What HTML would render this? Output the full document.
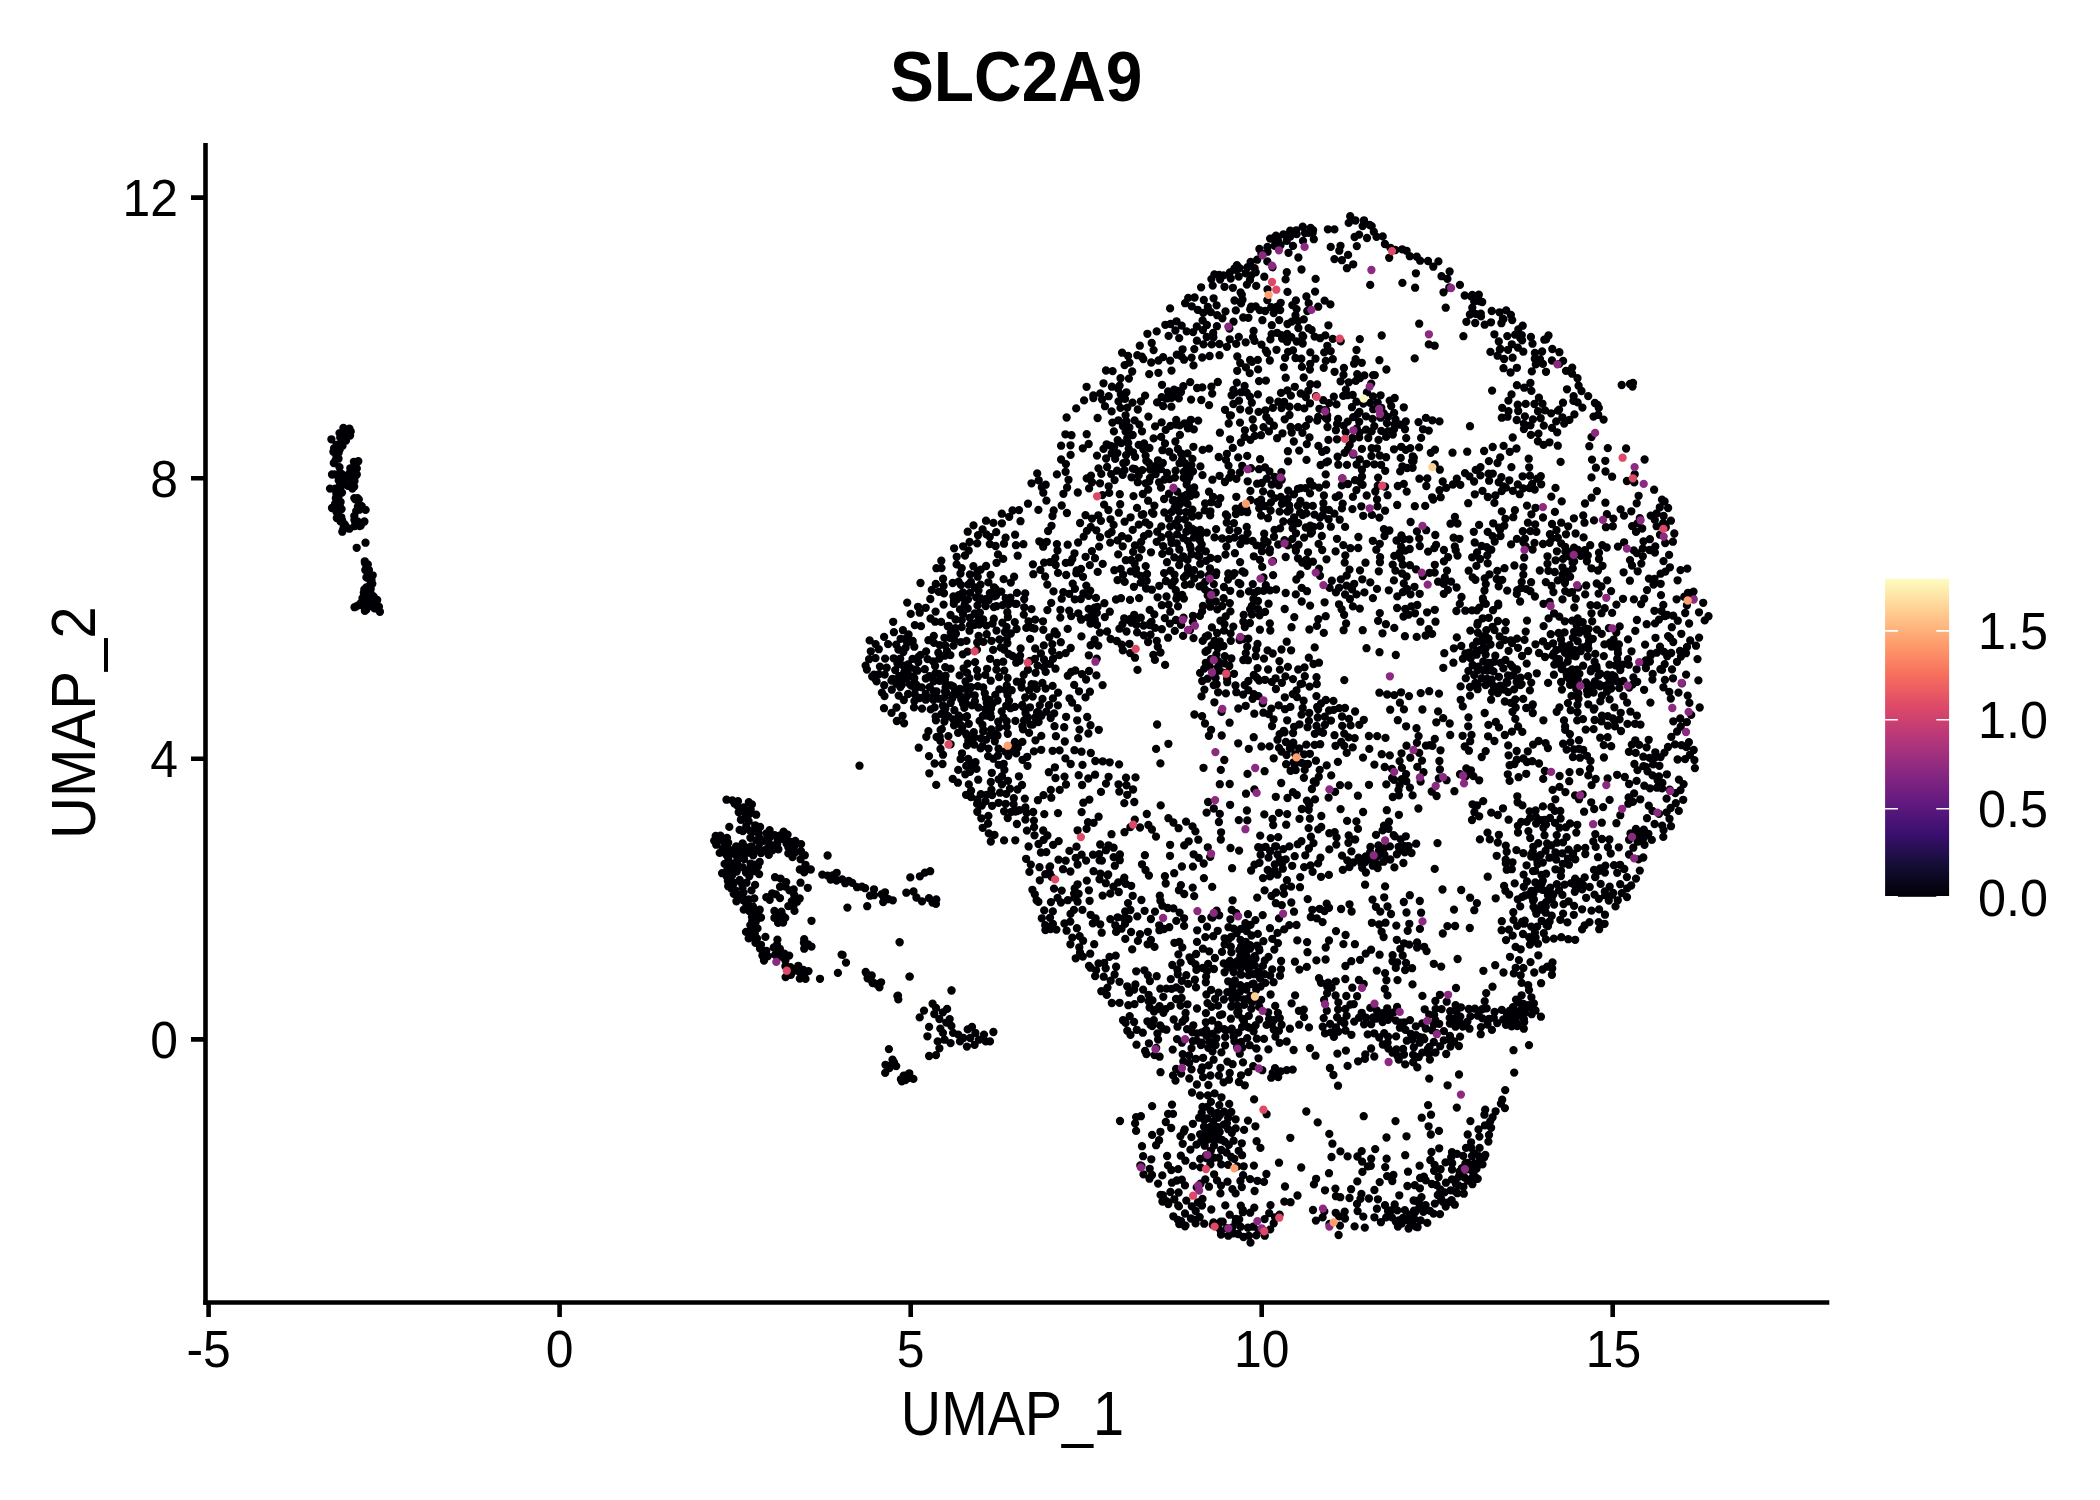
<!DOCTYPE html>
<html><head><meta charset="utf-8"><title>SLC2A9</title><style>
html,body{margin:0;padding:0;background:#fff;width:2100px;height:1500px;overflow:hidden}
svg{display:block}
text{font-family:"Liberation Sans",sans-serif;fill:#000}
</style></head><body>
<svg width="2100" height="1500" viewBox="0 0 2100 1500">
<rect width="2100" height="1500" fill="#fff"/>
<!-- axes -->
<g stroke="#000" stroke-width="4.6" fill="none" stroke-linecap="butt">
<path d="M205.5 143V1304.8"/>
<path d="M203.2 1302.5H1829.3"/>
<path d="M191 197.6H205.5M191 478.2H205.5M191 758.8H205.5M191 1039.4H205.5"/>
<path d="M208.6 1302.5V1317M559.6 1302.5V1317M910.7 1302.5V1317M1261.7 1302.5V1317M1612.7 1302.5V1317"/>
</g>
<g font-size="51.4">
<text transform="translate(178 216) scale(0.97 1)" text-anchor="end">12</text>
<text transform="translate(178 496.6) scale(0.97 1)" text-anchor="end">8</text>
<text transform="translate(178 777.2) scale(0.97 1)" text-anchor="end">4</text>
<text transform="translate(178 1057.8) scale(0.97 1)" text-anchor="end">0</text>
<text transform="translate(208.6 1366.8) scale(0.97 1)" text-anchor="middle">-5</text>
<text transform="translate(559.6 1366.8) scale(0.97 1)" text-anchor="middle">0</text>
<text transform="translate(910.7 1366.8) scale(0.97 1)" text-anchor="middle">5</text>
<text transform="translate(1261.7 1366.8) scale(0.97 1)" text-anchor="middle">10</text>
<text transform="translate(1613.5 1366.8) scale(0.97 1)" text-anchor="middle">15</text>
<text transform="translate(1978 648.8) scale(0.98 1)">1.5</text>
<text transform="translate(1978 737.7) scale(0.98 1)">1.0</text>
<text transform="translate(1978 826.6) scale(0.98 1)">0.5</text>
<text transform="translate(1978 915.5) scale(0.98 1)">0.0</text>
</g>
<text transform="translate(1016.2 100.9) scale(0.932 1)" font-size="70.7" font-weight="bold" text-anchor="middle">SLC2A9</text>
<text transform="translate(1012.5 1435) scale(0.893 1)" font-size="62.5" text-anchor="middle">UMAP_1</text>
<text transform="translate(95.2 722.6) rotate(-90) scale(0.93 1)" font-size="62.5" text-anchor="middle">UMAP_2</text>
<!-- legend -->
<defs><linearGradient id="mg" x1="0" y1="1" x2="0" y2="0">
<stop offset="0" stop-color="#000004"/><stop offset="0.1" stop-color="#140E36"/><stop offset="0.2" stop-color="#3B0F70"/><stop offset="0.3" stop-color="#641A80"/><stop offset="0.4" stop-color="#8C2981"/><stop offset="0.5" stop-color="#B73779"/><stop offset="0.6" stop-color="#DE4968"/><stop offset="0.7" stop-color="#F7705C"/><stop offset="0.8" stop-color="#FE9F6D"/><stop offset="0.9" stop-color="#FECF92"/><stop offset="1" stop-color="#FCFDBF"/>
</linearGradient></defs>
<rect x="1885.1" y="578.7" width="64" height="318.1" fill="url(#mg)"/>
<path d="M1885.1 630.9h12.8M1936.3 630.9h12.8M1885.1 719.8h12.8M1936.3 719.8h12.8M1885.1 808.7h12.8M1936.3 808.7h12.8M1885.1 896.8h12.8M1936.3 896.8h12.8" stroke="#fff" stroke-width="1.6" fill="none"/>
<path d="M1439.2 1023.8h.01M1361.7 1012.8h.01M1330.1 1023.9h.01M1410.9 1033.9h.01M1415.8 1026.4h.01M1429.2 1014.6h.01M1344.4 1023.2h.01M1326.8 1010.7h.01M1493.8 1017.9h.01M1456.5 1017.1h.01M1373.2 1017.4h.01M1480.9 1027.1h.01M1497.2 1023.1h.01M1354.2 1021.6h.01M1514.5 1010.8h.01M1399.9 1027.7h.01M1346.6 1015.8h.01M1450.2 1011.1h.01M1443.9 1031.1h.01M1425.8 1028.5h.01M1433.9 1024.5h.01M1405.4 1029.8h.01M1382.6 1022.0h.01M1393.7 1012.4h.01M1501.8 1009.9h.01M1432.1 1030.2h.01M1416.1 1035.2h.01M1449.9 1023.5h.01M1364.1 1024.3h.01M1400.7 1022.7h.01M1487.5 1024.5h.01M1470.4 1016.4h.01M1388.0 1019.8h.01M1338.2 1031.7h.01M1507.0 1015.3h.01M1325.0 1033.4h.01M1436.6 1033.1h.01M1333.9 1036.9h.01M1474.9 1008.7h.01M1460.9 1007.3h.01M1482.2 1009.2h.01M1434.2 1014.9h.01M1337.1 1017.2h.01M1382.9 1013.2h.01M1384.2 1033.2h.01M1371.2 1024.2h.01M1468.8 1009.0h.01M1515.2 1019.6h.01M1467.4 1021.6h.01M1396.1 1036.4h.01M1455.5 1026.7h.01M1412.3 1039.6h.01M1491.9 1029.9h.01M1423.3 1037.6h.01M1477.9 1015.7h.01M1489.1 1018.8h.01M1486.7 1008.4h.01M1359.0 1017.7h.01M1435.4 1020.2h.01M1469.5 1028.7h.01M1462.8 1026.5h.01M1422.3 1023.4h.01M1449.7 1017.9h.01M1395.9 1020.6h.01M1406.8 1040.7h.01M1366.1 1017.7h.01M1410.0 1020.1h.01M1322.7 1026.7h.01M1376.8 1010.5h.01M1482.4 1018.4h.01M1330.8 1032.4h.01M1335.9 1027.3h.01M1351.4 1034.8h.01M1413.1 1054.8h.01M1396.4 1049.4h.01M1417.3 1067.4h.01M1404.0 1054.5h.01M1443.8 1040.3h.01M1458.9 1046.0h.01M1418.8 1057.0h.01M1387.6 1042.6h.01M1460.1 1036.6h.01M1450.4 1046.6h.01M1454.0 1041.5h.01M1403.1 1048.9h.01M1450.0 1036.0h.01M1382.8 1044.5h.01M1397.5 1056.0h.01M1388.1 1036.7h.01M1422.3 1052.6h.01M1429.9 1059.6h.01M1446.2 1054.0h.01M1440.2 1046.2h.01M1405.2 1064.4h.01M1419.7 1042.7h.01M1392.6 1052.7h.01M1379.2 1037.5h.01M1435.5 1052.5h.01M1433.8 1042.0h.01M1428.0 1048.8h.01M1413.2 1062.3h.01M1413.8 1047.3h.01M1429.0 1054.1h.01M1505.9 1024.8h.01M1521.3 1009.0h.01M1531.7 1014.2h.01M1524.2 1013.8h.01M1513.0 1007.2h.01M1509.7 1010.6h.01M1530.5 1007.0h.01M1540.9 1016.7h.01M1518.5 1012.4h.01M1519.3 1002.9h.01M1524.6 1011.9h.01M1523.9 1019.3h.01M1516.2 1017.3h.01M1523.8 1028.7h.01M1513.1 1015.6h.01M1516.0 999.6h.01M1511.6 1026.3h.01M1533.9 1003.4h.01M1517.2 1026.0h.01M1535.5 1010.5h.01M1518.3 1011.6h.01M1516.1 1022.1h.01M1522.8 1014.5h.01M1524.2 1022.1h.01M1523.4 1003.8h.01M1526.2 1007.7h.01M1510.1 1013.7h.01M1523.6 1005.8h.01M1508.2 1019.3h.01M1522.3 1011.7h.01M1525.4 1006.4h.01M1512.3 1019.6h.01M1528.3 1005.1h.01M1513.5 1010.8h.01M1402.2 249.3h.01M1376.5 236.8h.01M1373.8 231.8h.01M1433.3 266.7h.01M1384.9 244.0h.01M1362.6 226.1h.01M1390.4 247.8h.01M1420.1 260.7h.01M1395.3 250.0h.01M1409.8 256.2h.01M1364.0 220.3h.01M1355.5 220.5h.01M1369.7 225.0h.01M1499.5 312.3h.01M1464.7 295.5h.01M1459.9 284.9h.01M1532.5 343.7h.01M1491.7 311.0h.01M1522.7 325.7h.01M1472.3 295.0h.01M1512.2 320.1h.01M1482.2 302.0h.01M1522.1 340.3h.01M1544.3 339.7h.01M1552.3 349.0h.01M1510.9 315.0h.01M1449.3 287.5h.01M1474.2 301.6h.01M1502.9 318.7h.01M1447.4 278.9h.01M1478.8 294.7h.01M1521.8 335.1h.01M1506.2 310.4h.01M1441.5 276.2h.01M1563.1 360.9h.01M1530.9 337.0h.01M1559.3 363.8h.01M1566.0 370.9h.01M1598.2 414.8h.01M1598.8 407.9h.01M1603.6 419.6h.01M1577.5 378.2h.01M1581.5 391.0h.01M1594.9 403.0h.01M1572.1 373.7h.01M1588.2 396.1h.01M1593.5 416.6h.01M1578.6 385.7h.01M1296.7 234.1h.01M1214.4 274.4h.01M1310.6 227.9h.01M1223.5 275.4h.01M1277.9 240.3h.01M1245.8 273.3h.01M1267.5 246.9h.01M1271.7 238.6h.01M1230.7 278.5h.01M1238.7 276.5h.01M1250.6 261.9h.01M1267.6 251.7h.01M1290.3 236.5h.01M1259.4 249.0h.01M1257.2 259.7h.01M1261.4 253.4h.01M1312.7 232.8h.01M1305.0 233.1h.01M1211.4 279.1h.01M1254.6 268.2h.01M1283.5 234.3h.01M1239.6 268.1h.01M1280.5 245.2h.01M1286.7 240.9h.01M1220.1 279.6h.01M1302.7 226.7h.01M1274.7 245.8h.01M1234.5 268.5h.01M1491.1 1127.8h.01M1490.2 1121.4h.01M1505.2 1090.1h.01M1500.9 1103.6h.01M1502.2 1099.7h.01M1514.2 1072.6h.01M1488.4 1141.6h.01M1495.6 1111.3h.01M1492.6 1117.2h.01M1476.4 1168.9h.01M1485.3 1154.9h.01M1457.3 1193.2h.01M1474.1 1175.9h.01M1451.4 1200.2h.01M1445.7 1206.5h.01M1472.5 1170.4h.01M1458.5 1185.5h.01M1463.4 1186.9h.01M1442.8 1201.8h.01M1450.8 1190.3h.01M1440.0 1214.1h.01M1482.5 1164.4h.01M1479.0 1156.2h.01M1433.5 1213.6h.01M1468.6 1180.7h.01M1403.1 1217.8h.01M1430.0 1210.9h.01M1423.8 1210.9h.01M1404.8 1210.1h.01M1412.1 1222.7h.01M1398.6 1220.5h.01M1415.1 1212.2h.01M1420.1 1204.1h.01M1423.4 1211.9h.01M1419.3 1207.8h.01M1391.9 1217.4h.01M1434.8 1203.6h.01M1465.4 1163.4h.01M1467.3 1167.2h.01M1464.6 1177.5h.01M1466.9 1169.4h.01M1459.6 1174.4h.01M1467.5 1162.9h.01M1468.5 1163.9h.01M1477.7 1178.8h.01M1474.7 1163.3h.01M1463.2 1155.9h.01M1469.5 1168.0h.01M1472.0 1156.0h.01M1452.0 1169.5h.01M1472.4 1171.2h.01M1451.9 1179.4h.01M1461.9 1168.1h.01M1204.2 1223.7h.01M1256.3 1235.4h.01M1238.1 1234.0h.01M1160.6 1194.9h.01M1273.7 1223.3h.01M1173.3 1216.3h.01M1213.4 1222.5h.01M1248.8 1235.8h.01M1158.1 1183.6h.01M1270.2 1229.4h.01M1258.8 1230.2h.01M1226.9 1228.1h.01M1168.3 1204.1h.01M1190.9 1218.5h.01M1149.5 1178.7h.01M1180.2 1221.5h.01M1195.6 1223.4h.01M1185.0 1226.3h.01M1162.4 1201.5h.01M1149.7 1168.8h.01M1264.8 1235.7h.01M1228.3 1235.7h.01M1185.0 1213.5h.01M1232.4 1227.5h.01M1143.5 1174.4h.01M1178.9 1206.4h.01M1215.7 1133.9h.01M1220.2 1139.5h.01M1223.7 1124.6h.01M1228.8 1144.9h.01M1200.1 1134.3h.01M1214.4 1114.6h.01M1205.0 1135.0h.01M1210.9 1129.9h.01M1224.6 1141.6h.01M1201.7 1112.8h.01M1211.0 1150.6h.01M1214.1 1140.5h.01M1214.0 1145.6h.01M1221.1 1149.8h.01M1212.5 1136.5h.01M1228.2 1129.2h.01M1218.9 1157.7h.01M1213.9 1157.7h.01M1228.1 1117.9h.01M1217.9 1117.7h.01M1204.7 1145.7h.01M1207.2 1106.8h.01M1224.2 1111.7h.01M1204.4 1120.0h.01M1231.8 1132.8h.01M1218.0 1127.1h.01M1372.5 418.9h.01M1571.5 695.9h.01M1283.7 887.7h.01M1308.3 390.8h.01M1422.0 760.6h.01M1103.5 383.3h.01M1340.6 381.3h.01M1598.7 922.1h.01M1111.8 1003.0h.01M1427.1 612.3h.01M980.6 748.4h.01M1335.9 592.4h.01M1125.0 923.9h.01M1285.9 742.0h.01M1231.4 658.5h.01M1309.6 686.6h.01M1498.7 586.3h.01M1089.9 691.7h.01M1377.0 499.5h.01M1126.5 785.3h.01M1446.7 1001.7h.01M1202.1 611.4h.01M1599.0 559.0h.01M1099.9 632.6h.01M925.7 694.0h.01M974.7 695.5h.01M994.4 596.3h.01M1510.6 372.5h.01M1165.3 324.8h.01M896.8 721.0h.01M1508.9 929.6h.01M1383.9 529.1h.01M1305.8 527.5h.01M1016.5 603.9h.01M1169.0 493.7h.01M1398.7 1059.6h.01M1328.4 325.3h.01M1333.4 700.9h.01M1377.5 506.4h.01M1240.9 442.5h.01M1396.8 939.8h.01M1595.9 467.7h.01M1168.1 391.5h.01M1173.4 908.4h.01M1420.7 1220.4h.01M1354.1 363.7h.01M1485.8 584.1h.01M945.2 667.1h.01M1207.8 847.3h.01M1208.1 963.9h.01M1022.4 741.9h.01M990.1 658.8h.01M1261.5 344.6h.01M1260.2 835.6h.01M1322.1 451.8h.01M1429.2 691.2h.01M1109.5 956.9h.01M1505.8 622.1h.01M939.5 680.9h.01M1215.7 592.5h.01M1026.3 627.9h.01M1616.4 823.2h.01M1451.1 581.6h.01M1217.1 633.0h.01M1243.1 1175.2h.01M1156.1 748.9h.01M1082.1 785.0h.01M1130.7 571.4h.01M1544.5 835.2h.01M1250.1 360.0h.01M1178.2 1205.5h.01M1219.9 670.6h.01M1307.6 727.2h.01M1271.5 896.0h.01M1090.2 953.7h.01M1291.1 650.3h.01M1530.5 962.1h.01M1462.9 658.7h.01M1003.6 579.1h.01M1587.0 755.8h.01M1342.3 478.5h.01M950.8 632.6h.01M1377.9 1199.3h.01M1454.5 1020.2h.01M1161.8 629.2h.01M1213.0 496.8h.01M1513.6 1018.7h.01M1250.9 468.2h.01M1257.4 1180.8h.01M1523.3 351.7h.01M1328.6 797.6h.01M1620.6 509.4h.01M1136.0 568.9h.01M1330.7 246.9h.01M1405.2 608.9h.01M1569.6 645.2h.01M942.9 705.5h.01M1042.4 683.0h.01M1252.0 614.5h.01M918.3 662.1h.01M1537.6 864.3h.01M1051.3 797.7h.01M1311.9 789.0h.01M1339.7 519.7h.01M1353.2 264.3h.01M1488.7 662.9h.01M1176.4 598.7h.01M1404.1 1022.4h.01M1563.5 904.1h.01M1130.7 618.7h.01M1578.5 685.1h.01M969.8 617.8h.01M1500.2 457.4h.01M1105.8 883.2h.01M1079.7 936.2h.01M1196.8 326.5h.01M917.5 670.7h.01M1557.8 537.8h.01M1384.1 848.1h.01M1174.4 942.8h.01M1495.2 965.2h.01M1576.3 832.6h.01M1138.9 557.6h.01M1202.1 716.2h.01M1167.6 398.4h.01M1398.6 846.8h.01M1635.7 752.9h.01M1459.6 1171.4h.01M1614.4 707.3h.01M1137.5 669.9h.01M1578.9 740.2h.01M948.7 625.8h.01M1319.6 908.8h.01M891.4 680.6h.01M1157.1 724.5h.01M1141.4 1166.0h.01M1164.1 499.0h.01M1105.0 406.2h.01M1180.8 1155.7h.01M1507.5 416.7h.01M1146.4 1054.0h.01M1215.8 601.4h.01M1006.7 726.9h.01M1378.1 620.8h.01M1074.4 897.5h.01M1241.1 946.5h.01M1332.4 1143.7h.01M1443.5 292.3h.01M1555.3 799.3h.01M1045.3 874.2h.01M1504.3 525.7h.01M1329.3 849.4h.01M959.6 675.4h.01M1259.9 629.7h.01M1231.7 1028.6h.01M1511.8 344.3h.01M945.6 687.5h.01M1296.6 309.1h.01M1541.1 906.9h.01M1207.5 678.7h.01M1559.1 659.2h.01M1349.4 867.0h.01M1439.0 693.6h.01M1565.2 591.1h.01M1245.7 941.8h.01M1086.9 530.9h.01M1573.9 749.5h.01M1549.7 542.8h.01M1273.7 1029.5h.01M1285.0 1186.5h.01M1288.1 351.8h.01M895.2 670.1h.01M1587.8 555.5h.01M1370.1 402.9h.01M1549.5 442.3h.01M1178.0 606.4h.01M1095.6 918.5h.01M1329.1 710.5h.01M1370.4 846.9h.01M1247.3 512.2h.01M1562.8 863.9h.01M1246.4 963.2h.01M1376.3 549.7h.01M1527.0 881.5h.01M1553.3 894.5h.01M954.1 548.3h.01M1591.3 669.2h.01M1240.8 1205.7h.01M1288.2 490.7h.01M1039.3 541.3h.01M1264.2 533.7h.01M1552.2 968.5h.01M1403.8 583.5h.01M1415.0 613.3h.01M1618.0 653.3h.01M1400.7 457.9h.01M1117.5 580.1h.01M1175.9 620.0h.01M1516.9 367.8h.01M1300.1 512.5h.01M935.9 720.3h.01M1043.3 629.8h.01M1109.2 492.9h.01M1651.8 839.9h.01M1578.3 693.5h.01M1479.6 1147.9h.01M1092.8 923.4h.01M961.7 627.1h.01M1277.5 854.5h.01M1666.7 812.3h.01M1417.1 947.6h.01M1663.6 830.1h.01M1671.8 627.2h.01M1219.5 355.2h.01M1263.4 712.7h.01M1272.7 653.5h.01M1119.6 1002.8h.01M1229.5 530.1h.01M1232.4 575.7h.01M1512.7 935.6h.01M1562.3 853.3h.01M1595.7 846.9h.01M1240.6 1226.7h.01M1305.9 425.9h.01M1212.1 1020.5h.01M1178.8 398.4h.01M1663.6 516.0h.01M1321.8 536.0h.01M1304.1 867.1h.01M1605.0 914.7h.01M1532.8 713.0h.01M1473.8 654.0h.01M1206.7 1158.2h.01M1056.8 634.4h.01M1182.7 496.5h.01M1185.9 575.5h.01M993.8 618.7h.01M943.6 585.8h.01M1654.4 610.8h.01M1356.8 246.1h.01M1194.4 714.5h.01M1410.3 448.1h.01M1316.1 1178.8h.01M1294.7 856.2h.01M1345.6 935.0h.01M1673.3 721.3h.01M1352.9 606.4h.01M969.5 630.7h.01M1034.8 894.3h.01M1010.5 708.2h.01M1529.9 475.7h.01M1147.6 944.3h.01M1160.2 1025.4h.01M1140.7 582.6h.01M1125.8 560.2h.01M1233.6 972.1h.01M1149.9 981.1h.01M1419.7 593.8h.01M1251.8 605.9h.01M1111.9 386.7h.01M1559.5 827.7h.01M1413.6 1200.5h.01M1607.6 778.5h.01M1649.9 539.2h.01M1132.7 435.0h.01M1537.2 926.6h.01M1435.0 449.7h.01M1675.8 803.2h.01M1378.5 439.9h.01M1190.0 546.0h.01M1216.3 572.4h.01M1232.6 900.3h.01M1280.1 528.4h.01M1207.8 307.0h.01M1465.0 473.1h.01M1418.6 736.1h.01M1202.9 330.1h.01M1116.1 931.9h.01M1348.6 737.4h.01M1460.3 1016.6h.01M1348.4 842.8h.01M1604.4 644.4h.01M1614.3 676.1h.01M1223.9 999.5h.01M1043.8 645.4h.01M944.4 637.8h.01M1636.9 620.0h.01M1207.5 650.3h.01M1286.1 764.2h.01M1545.7 912.7h.01M1563.1 743.7h.01M1475.3 683.0h.01M1397.3 1210.4h.01M1002.4 622.7h.01M1599.5 684.4h.01M1184.0 359.7h.01M1650.7 515.6h.01M1229.6 722.7h.01M1394.3 627.9h.01M1363.0 757.6h.01M1224.0 630.6h.01M1286.9 880.2h.01M1245.4 923.1h.01M1007.3 612.2h.01M1243.9 1021.0h.01M1215.6 678.0h.01M1337.6 456.7h.01M1230.5 848.0h.01M1183.3 538.0h.01M1693.7 750.0h.01M1236.0 1219.0h.01M1551.4 807.0h.01M1560.3 811.0h.01M1043.7 839.8h.01M1054.8 631.5h.01M938.8 591.9h.01M1648.4 833.8h.01M1385.1 973.1h.01M1254.4 789.4h.01M1364.4 375.4h.01M1024.1 720.5h.01M1459.0 1074.5h.01M1570.0 684.8h.01M1286.6 755.0h.01M1609.5 681.8h.01M1089.4 799.6h.01M1529.1 937.2h.01M1336.5 404.4h.01M1190.8 419.8h.01M1664.6 501.4h.01M1314.6 336.6h.01M1178.4 519.2h.01M1588.6 629.1h.01M1644.6 459.5h.01M1543.0 544.0h.01M1348.1 254.9h.01M1363.1 812.0h.01M1439.8 469.7h.01M1096.7 658.7h.01M1466.0 1147.9h.01M1249.7 373.1h.01M1184.9 519.4h.01M1020.6 648.5h.01M1499.0 676.9h.01M914.8 694.3h.01M1302.4 432.8h.01M1107.1 467.0h.01M1263.1 491.4h.01M1056.4 929.6h.01M941.5 714.0h.01M1355.8 380.9h.01M962.9 592.5h.01M1027.5 765.8h.01M1444.3 653.2h.01M1073.9 909.9h.01M1145.7 483.3h.01M1500.1 685.6h.01M1205.8 1022.3h.01M1575.8 598.7h.01M1328.6 519.2h.01M1165.0 443.5h.01M1544.9 771.0h.01M1562.4 417.3h.01M1357.0 1203.9h.01M1238.3 708.5h.01M1345.1 526.9h.01M1136.8 1029.8h.01M1552.6 789.9h.01M1572.2 367.6h.01M1453.4 662.7h.01M1024.2 599.1h.01M1571.1 883.1h.01M1406.6 250.8h.01M1093.6 822.9h.01M1197.1 388.0h.01M1661.0 595.1h.01M1531.2 926.6h.01M1221.7 735.5h.01M1431.7 791.5h.01M1329.3 1133.9h.01M1535.5 507.8h.01M1664.1 651.9h.01M1601.8 822.7h.01M1185.4 1160.7h.01M1573.1 853.8h.01M1254.7 956.2h.01M1200.1 672.9h.01M933.8 635.9h.01M1244.6 386.0h.01M1447.9 589.9h.01M1290.9 395.6h.01M1251.3 1008.7h.01M1612.1 612.9h.01M1278.2 1077.1h.01M1037.1 712.3h.01M930.7 709.4h.01M1311.9 532.3h.01M1208.9 735.8h.01M1220.0 1115.1h.01M1335.9 430.2h.01M986.3 794.9h.01M1106.8 994.9h.01M1233.6 1233.3h.01M948.4 736.1h.01M1439.5 421.4h.01M1498.2 603.7h.01M968.3 740.7h.01M1569.9 734.1h.01M1469.9 314.5h.01M1209.2 951.3h.01M1697.5 659.1h.01M1386.5 1137.5h.01M1508.6 819.7h.01M893.7 658.3h.01M1334.4 513.6h.01M1654.5 578.8h.01M929.3 773.3h.01M1023.8 614.6h.01M1499.0 527.7h.01M1547.5 556.3h.01M1069.2 593.9h.01M1561.2 522.7h.01M1470.2 741.2h.01M1246.3 989.5h.01M1457.5 555.6h.01M1412.0 461.1h.01M1580.8 648.9h.01M1408.0 1171.7h.01M1157.6 597.3h.01M1669.1 554.9h.01M1201.1 287.3h.01M1451.2 1157.2h.01M1362.2 867.8h.01M1547.5 563.8h.01M1342.2 725.9h.01M1317.7 1122.4h.01M1403.8 483.9h.01M1202.3 1067.3h.01M1575.7 656.3h.01M1025.2 697.5h.01M1259.2 1006.8h.01M1170.5 425.8h.01M1241.8 1143.3h.01M1245.9 367.4h.01M1395.4 570.6h.01M1416.9 742.8h.01M1343.2 395.9h.01M955.6 619.5h.01M1243.2 317.5h.01M1629.2 687.5h.01M1498.8 341.5h.01M1195.7 494.4h.01M1555.4 852.3h.01M1219.7 1132.0h.01M1171.2 539.4h.01M966.9 745.4h.01M1598.0 570.5h.01M1386.4 980.3h.01M1071.5 435.2h.01M1142.3 470.1h.01M1203.0 1077.1h.01M1574.8 891.8h.01M1309.9 753.8h.01M1301.8 809.0h.01M1544.4 819.9h.01M1559.1 409.6h.01M1638.1 834.2h.01M1560.6 818.5h.01M940.3 740.7h.01M1295.7 770.1h.01M1568.0 858.7h.01M1509.6 765.2h.01M1665.2 543.0h.01M1148.6 533.7h.01M1206.5 1035.8h.01M988.4 582.3h.01M1577.5 704.8h.01M968.0 599.3h.01M1268.7 714.1h.01M1161.7 397.1h.01M1174.5 574.6h.01M1129.4 427.5h.01M1248.3 638.7h.01M1306.9 800.6h.01M1177.2 596.0h.01M1076.2 408.4h.01M1081.5 751.7h.01M1102.6 895.6h.01M1664.5 752.6h.01M1253.8 675.0h.01M1049.3 637.3h.01M1507.3 682.7h.01M1313.8 781.4h.01M1125.2 911.5h.01M1165.8 1122.0h.01M1041.3 735.9h.01M1232.7 987.0h.01M1148.9 875.5h.01M991.0 708.6h.01M1224.6 938.3h.01M1045.4 930.1h.01M1052.9 924.0h.01M1259.9 559.9h.01M1345.7 432.1h.01M986.3 598.9h.01M1229.7 1214.7h.01M1607.3 674.6h.01M1428.8 430.6h.01M1556.8 884.1h.01M1263.5 427.1h.01M1391.0 914.0h.01M1279.8 1018.1h.01M1261.0 435.2h.01M1477.9 632.8h.01M1271.8 484.6h.01M996.2 532.1h.01M1425.9 417.9h.01M1520.1 601.5h.01M1496.7 855.8h.01M1686.9 605.2h.01M1408.6 846.1h.01M907.1 642.8h.01M1680.5 570.1h.01M1346.9 268.2h.01M1503.0 808.3h.01M1238.2 743.3h.01M1172.7 396.5h.01M1153.4 513.8h.01M1331.6 987.7h.01M1118.8 892.0h.01M1387.1 1176.1h.01M1408.6 1220.9h.01M1595.3 653.9h.01M1090.8 753.0h.01M900.3 687.1h.01M1104.8 617.1h.01M1583.0 719.1h.01M1627.0 897.1h.01M1655.3 546.5h.01M1092.0 482.3h.01M1521.7 581.9h.01M1523.8 886.8h.01M1454.0 909.6h.01M1456.4 1011.2h.01M1605.0 685.8h.01M1488.6 473.7h.01M1247.7 1027.0h.01M1240.9 967.7h.01M1339.1 587.8h.01M1505.8 845.6h.01M1473.8 531.8h.01M1517.8 899.3h.01M1290.6 427.0h.01M1526.3 589.1h.01M1169.3 927.2h.01M1127.3 407.6h.01M1337.0 439.3h.01M1211.3 502.2h.01M1171.3 1170.0h.01M1506.7 869.7h.01M1632.1 526.1h.01M1440.5 750.3h.01M1247.8 958.9h.01M1264.6 890.4h.01M1538.5 433.6h.01M1680.7 726.7h.01M1434.8 738.9h.01M1287.9 545.3h.01M1041.8 918.3h.01M1542.8 880.8h.01M1191.6 554.3h.01M1237.9 530.8h.01M1174.7 580.4h.01M997.6 700.5h.01M1455.8 1191.8h.01M1522.8 531.2h.01M914.8 625.1h.01M1054.2 713.4h.01M1335.8 981.3h.01M1462.8 706.4h.01M1213.3 1121.8h.01M1016.9 824.0h.01M1362.4 1171.9h.01M1375.2 1149.1h.01M968.7 550.5h.01M967.6 663.6h.01M1134.5 1004.1h.01M1174.9 477.6h.01M1394.3 555.9h.01M1352.7 394.9h.01M1196.5 1144.6h.01M1106.1 458.5h.01M1137.9 940.9h.01M1069.5 698.3h.01M1212.5 1051.4h.01M1332.8 338.9h.01M966.9 696.4h.01M1484.7 578.4h.01M1178.8 527.5h.01M1323.7 1018.1h.01M1470.4 1121.1h.01M1258.1 369.4h.01M1583.2 749.8h.01M1551.3 496.6h.01M1303.9 777.8h.01M1583.6 537.4h.01M1164.0 929.0h.01M1253.2 1226.7h.01M1259.0 1000.8h.01M1566.0 827.2h.01M1224.5 663.4h.01M1159.2 925.3h.01M888.1 644.1h.01M1386.9 423.1h.01M1412.5 984.4h.01M1204.2 668.6h.01M1166.5 596.5h.01M1110.3 919.1h.01M1170.5 324.0h.01M1240.3 956.0h.01M1079.3 947.3h.01M1308.7 809.8h.01M1629.1 839.8h.01M1174.2 873.2h.01M953.4 596.5h.01M956.7 556.8h.01M1015.4 720.9h.01M1578.9 748.8h.01M1169.9 623.6h.01M933.8 691.2h.01M1241.2 392.2h.01M977.3 799.4h.01M1369.0 784.8h.01M1116.1 966.7h.01M1452.0 1152.2h.01M1303.0 240.9h.01M908.0 664.5h.01M970.0 574.5h.01M1028.6 846.5h.01M992.1 795.0h.01M1076.3 573.2h.01M1179.3 942.0h.01M1677.8 620.7h.01M1639.2 744.9h.01M1106.6 444.3h.01M1385.2 470.8h.01M1180.6 962.6h.01M1662.0 499.6h.01M1350.4 548.2h.01M1481.6 546.0h.01M1542.1 351.5h.01M1390.2 709.7h.01M1151.0 552.3h.01M1190.8 584.2h.01M931.8 589.9h.01M1150.0 478.0h.01M1424.2 946.8h.01M1242.1 1155.2h.01M1057.9 705.4h.01M1262.4 320.2h.01M1008.4 604.3h.01M1474.3 910.2h.01M1066.6 930.7h.01M1031.6 684.2h.01M1386.3 784.4h.01M1180.0 559.4h.01M1240.0 422.6h.01M1264.3 814.4h.01M1435.5 621.7h.01M1358.1 1061.3h.01M1131.5 477.3h.01M1159.1 1140.2h.01M1481.6 678.1h.01M1508.6 650.8h.01M1119.3 791.6h.01M1080.1 523.0h.01M1483.3 670.4h.01M891.5 712.9h.01M884.0 708.2h.01M1425.2 505.9h.01M996.5 606.2h.01M1685.1 759.1h.01M1659.0 776.4h.01M1280.7 1071.4h.01M1483.4 970.8h.01M1561.1 648.7h.01M1318.3 619.2h.01M1540.8 476.2h.01M1254.8 435.9h.01M981.8 805.5h.01M1340.3 1197.2h.01M990.3 713.8h.01M1229.7 784.0h.01M938.3 652.7h.01M1556.7 835.1h.01M1210.4 1164.4h.01M1517.8 484.4h.01M1277.9 1013.0h.01M1156.7 976.2h.01M998.0 554.4h.01M1488.1 736.3h.01M1285.4 676.4h.01M1591.5 437.1h.01M1336.3 844.6h.01M1180.4 1136.1h.01M1202.5 475.1h.01M1078.2 738.2h.01M1508.1 692.1h.01M1187.9 567.6h.01M1126.4 392.3h.01M1248.6 975.2h.01M1136.4 624.9h.01M1645.1 644.6h.01M1676.6 599.3h.01M1365.2 862.1h.01M870.8 651.3h.01M1260.1 978.4h.01M1386.1 457.2h.01M1475.4 579.8h.01M1325.8 360.9h.01M1340.5 245.8h.01M1298.2 523.0h.01M1219.9 432.7h.01M1410.6 522.0h.01M1543.5 444.9h.01M1170.1 844.8h.01M1174.1 389.6h.01M998.7 764.9h.01M1213.2 333.0h.01M1224.6 972.3h.01M1010.8 633.5h.01M1394.5 424.4h.01M1096.0 597.9h.01M1273.9 1020.1h.01M1508.2 745.4h.01M1177.0 1039.1h.01M884.2 685.2h.01M1185.0 1185.4h.01M1562.5 599.4h.01M1406.1 774.1h.01M1280.7 302.8h.01M1197.7 309.8h.01M1542.8 862.6h.01M1538.0 411.2h.01M1254.3 1207.6h.01M1086.6 828.8h.01M1496.7 579.0h.01M1622.4 664.6h.01M1466.3 768.4h.01M1005.6 537.7h.01M1174.3 557.4h.01M1410.3 757.7h.01M1431.0 1114.7h.01M1402.7 955.5h.01M977.9 676.5h.01M1097.0 624.9h.01M1663.3 604.9h.01M1641.1 604.1h.01M1491.0 322.3h.01M1172.7 1049.6h.01M1043.0 621.3h.01M1463.8 1193.7h.01M1472.0 610.4h.01M929.5 676.1h.01M1238.2 1014.5h.01M1211.3 1209.5h.01M1454.8 1204.7h.01M1139.4 424.6h.01M1228.7 423.5h.01M1551.7 899.1h.01M1162.3 553.9h.01M1032.4 889.8h.01M1516.4 850.1h.01M1319.0 662.7h.01M1146.3 588.5h.01M1241.0 1075.3h.01M876.6 681.4h.01M986.2 739.6h.01M1620.2 884.2h.01M970.9 581.9h.01M1314.5 514.6h.01M1136.1 1117.1h.01M1509.2 894.5h.01M1162.3 1175.4h.01M1283.9 893.9h.01M1644.3 662.8h.01M1259.7 310.1h.01M1304.1 537.6h.01M1077.6 901.7h.01M1185.6 1013.0h.01M1179.2 511.6h.01M1064.8 741.5h.01M1054.5 632.7h.01M1197.2 930.3h.01M1263.4 941.2h.01M1529.6 811.4h.01M1200.0 535.4h.01M1234.0 673.8h.01M1303.6 700.7h.01M1270.6 994.5h.01M973.5 525.4h.01M1308.6 328.2h.01M1287.9 451.2h.01M1643.3 756.7h.01M1399.9 702.7h.01M1394.0 429.4h.01M954.0 725.3h.01M891.8 689.7h.01M1011.7 690.2h.01M1270.9 502.4h.01M1605.3 460.8h.01M1543.0 641.3h.01M1384.7 767.0h.01M1000.0 792.7h.01M1213.6 1059.7h.01M1001.3 591.6h.01M1514.9 510.2h.01M1549.4 857.7h.01M1565.2 729.9h.01M978.0 535.2h.01M1587.6 656.5h.01M1257.8 502.0h.01M1307.7 899.1h.01M1063.0 869.2h.01M1246.0 793.7h.01M1579.8 771.8h.01M1572.1 669.5h.01M1066.6 417.5h.01M930.5 618.5h.01M1219.4 344.0h.01M1600.2 737.7h.01M1181.8 980.9h.01M1206.1 976.6h.01M1598.9 898.8h.01M1161.8 605.2h.01M1239.9 991.8h.01M912.7 640.9h.01M1414.7 358.4h.01M1225.5 554.6h.01M1365.5 562.7h.01M1134.3 802.0h.01M1426.3 486.0h.01M1193.0 615.8h.01M1224.2 1029.1h.01M1109.8 611.7h.01M1649.5 757.9h.01M1434.7 345.7h.01M1382.6 830.4h.01M1206.1 1030.0h.01M1385.9 624.2h.01M1410.5 594.3h.01M1310.2 363.8h.01M1624.0 515.6h.01M1584.5 522.7h.01M1296.2 230.3h.01M1220.4 1067.8h.01M1660.7 583.8h.01M1254.3 713.7h.01M1432.1 633.9h.01M1419.2 323.7h.01M1224.9 482.0h.01M1275.8 903.2h.01M1083.7 536.6h.01M1038.3 722.1h.01M1675.0 744.4h.01M1357.4 1156.5h.01M1448.1 557.2h.01M1219.3 1105.1h.01M1377.2 736.1h.01M1138.7 444.9h.01M1341.2 741.9h.01M1424.3 1039.2h.01M1563.0 842.4h.01M1148.9 1043.3h.01M1194.2 487.5h.01M1287.1 341.7h.01M1440.7 497.2h.01M1463.4 336.2h.01M1229.9 415.5h.01M1281.9 503.8h.01M1070.7 648.0h.01M1141.2 541.8h.01M1343.5 374.9h.01M1322.6 1217.4h.01M1374.3 1056.5h.01M1219.6 475.8h.01M1371.9 922.8h.01M1343.7 425.6h.01M1108.6 776.8h.01M1035.2 648.5h.01M982.6 529.4h.01M1556.2 421.4h.01M1184.1 925.9h.01M1221.0 1185.6h.01M1400.3 948.9h.01M1567.7 661.6h.01M1226.9 1123.2h.01M1565.1 652.9h.01M1551.7 915.7h.01M1186.3 975.2h.01M1567.0 676.7h.01M1183.9 598.6h.01M1340.6 809.1h.01M1158.1 1039.5h.01M1677.0 661.8h.01M1086.6 386.8h.01M1304.1 1017.1h.01M1474.2 675.0h.01M953.2 686.5h.01M1381.3 430.9h.01M1134.8 819.6h.01M1044.0 659.5h.01M1627.5 723.9h.01M1148.1 500.7h.01M1291.1 886.6h.01M1524.9 416.4h.01M1149.2 374.1h.01M1208.0 635.5h.01M1479.9 839.4h.01M1613.3 518.6h.01M1187.5 453.4h.01M1469.8 928.0h.01M1351.4 851.4h.01M1161.0 487.6h.01M1171.2 1128.0h.01M1626.9 481.0h.01M1591.4 568.3h.01M1245.7 342.3h.01M1158.5 360.5h.01M1634.7 474.3h.01M1074.2 684.9h.01M1004.3 670.6h.01M1244.6 436.9h.01M1053.5 591.4h.01M1324.3 1211.4h.01M1225.3 1205.4h.01M1473.4 776.1h.01M1173.0 1075.4h.01M1597.5 404.9h.01M1235.6 1119.3h.01M979.6 720.9h.01M1203.9 878.1h.01M1226.2 672.7h.01M1316.4 960.4h.01M1531.7 853.6h.01M1538.0 943.7h.01M1562.4 894.9h.01M1239.0 400.7h.01M1210.2 515.4h.01M944.2 697.4h.01M1413.8 457.8h.01M1501.7 491.0h.01M1421.1 437.9h.01M977.3 811.8h.01M1659.0 619.6h.01M989.8 593.1h.01M920.5 654.9h.01M1587.9 644.9h.01M1219.7 641.3h.01M950.4 655.1h.01M1162.4 905.7h.01M1590.0 768.7h.01M1042.5 698.9h.01M1392.6 955.2h.01M1662.2 825.6h.01M1070.7 764.0h.01M1613.2 893.0h.01M1293.6 762.3h.01M1244.8 627.0h.01M1492.2 670.6h.01M1202.2 681.0h.01M1126.1 462.1h.01M1638.4 859.3h.01M1171.6 585.3h.01M1480.0 1161.8h.01M1174.3 1199.3h.01M1271.0 493.7h.01M1124.3 803.1h.01M1070.5 913.9h.01M1188.2 525.4h.01M1497.8 842.5h.01M1081.4 636.4h.01M1472.4 1184.2h.01M1389.2 257.8h.01M1656.6 526.2h.01M1181.1 1073.6h.01M950.6 744.3h.01M1310.8 917.0h.01M1055.9 736.2h.01M1017.7 555.7h.01M1365.3 1054.4h.01M1232.3 965.8h.01M1369.3 748.9h.01M1222.0 951.9h.01M1445.9 1182.7h.01M924.8 669.2h.01M1579.0 799.2h.01M1127.2 794.8h.01M1672.0 669.4h.01M1657.0 787.7h.01M1312.9 561.7h.01M948.3 716.3h.01M1251.5 935.5h.01M1520.3 338.0h.01M1417.6 1227.2h.01M1156.7 331.4h.01M1216.4 654.5h.01M1122.7 474.9h.01M1238.4 1032.5h.01M1220.3 498.2h.01M1221.0 1234.6h.01M1273.7 758.3h.01M1003.7 763.8h.01M1379.8 455.5h.01M1210.9 1101.9h.01M1140.3 1165.5h.01M1603.8 656.1h.01M1218.4 1227.5h.01M1508.0 675.4h.01M1263.0 878.1h.01M986.0 520.7h.01M1663.5 561.1h.01M1257.2 897.6h.01M1217.0 1180.4h.01M1579.4 673.8h.01M1619.3 688.1h.01M1459.8 603.9h.01M1170.2 526.6h.01M1517.9 825.8h.01M935.1 666.0h.01M1164.9 876.2h.01M1164.3 512.5h.01M1549.9 534.2h.01M1118.1 388.6h.01M1352.9 496.9h.01M1221.1 832.3h.01M1158.0 460.3h.01M1485.6 685.1h.01M1361.4 863.5h.01M1559.4 707.4h.01M1204.0 1126.7h.01M1184.2 845.4h.01M1041.4 715.7h.01M1157.2 531.7h.01M1108.7 396.2h.01M974.7 613.5h.01M1006.7 721.2h.01M1574.4 414.4h.01M1262.9 965.9h.01M1397.5 980.1h.01M1508.4 400.6h.01M1515.3 699.5h.01M1462.6 735.8h.01M1004.0 543.7h.01M904.3 672.1h.01M1528.1 676.1h.01M1444.6 1192.4h.01M1366.0 416.4h.01M1310.1 605.6h.01M1197.1 1033.4h.01M1323.0 732.8h.01M1630.4 711.6h.01M1582.2 889.3h.01M1154.5 946.9h.01M1061.7 598.7h.01M1420.7 693.1h.01M1124.6 365.1h.01M1117.6 540.3h.01M1261.4 746.5h.01M1089.1 671.0h.01M1285.7 859.4h.01M1015.9 545.2h.01M962.8 654.3h.01M1082.0 674.2h.01M965.5 681.5h.01M1610.7 853.5h.01M1362.1 1161.6h.01M1350.6 725.4h.01M1404.8 852.4h.01M960.0 609.4h.01M1434.7 572.6h.01M1394.1 412.9h.01M1135.1 1123.4h.01M1192.9 1123.8h.01M1286.2 824.7h.01M1078.6 893.8h.01M1202.7 968.0h.01M1680.3 718.5h.01M1274.0 536.8h.01M1387.5 906.5h.01M1124.5 470.2h.01M1229.9 961.0h.01M1228.0 579.5h.01M1095.1 774.7h.01M1400.2 471.4h.01M1164.8 618.1h.01M1378.5 845.4h.01M1319.1 487.6h.01M1161.4 526.4h.01M1049.9 663.9h.01M1457.0 1153.9h.01M879.9 666.6h.01M1295.8 594.4h.01M1242.5 299.7h.01M1219.8 784.2h.01M1376.8 970.6h.01M1147.0 574.0h.01M1235.9 514.0h.01M1032.7 696.6h.01M1515.2 334.7h.01M1400.7 839.4h.01M1247.9 1227.7h.01M1345.5 1030.5h.01M1534.5 542.9h.01M1546.1 873.7h.01M972.0 705.3h.01M1668.0 747.0h.01M1453.6 537.7h.01M1271.8 325.2h.01M1230.1 804.8h.01M1069.2 610.6h.01M1134.1 1022.0h.01M1194.0 570.1h.01M1184.2 894.0h.01M1567.9 703.1h.01M1427.3 1222.9h.01M1170.4 1192.0h.01M1101.3 473.9h.01M1580.7 555.9h.01M1122.7 546.3h.01M1565.3 551.7h.01M1494.4 334.3h.01M1589.5 922.1h.01M1107.5 987.6h.01M1386.6 1158.7h.01M1518.2 411.0h.01M1039.5 867.2h.01M1410.0 1214.3h.01M1435.6 1008.9h.01M1183.3 386.2h.01M1243.6 961.8h.01M1192.9 1165.9h.01M961.3 699.6h.01M1052.6 685.9h.01M1362.3 579.3h.01M1306.8 444.1h.01M1223.7 963.4h.01M1675.3 793.1h.01M1151.3 1159.3h.01M1489.1 480.7h.01M1403.4 863.0h.01M1254.1 1099.4h.01M1365.1 884.7h.01M1490.5 644.5h.01M1451.7 1200.3h.01M1182.5 1021.6h.01M1304.7 769.9h.01M1488.9 461.1h.01M1659.8 507.3h.01M1430.8 452.8h.01M1492.1 691.9h.01M903.3 652.1h.01M1653.1 764.3h.01M1599.1 870.8h.01M1299.2 1024.7h.01M1290.3 1137.8h.01M1323.6 509.0h.01M1596.9 491.1h.01M1394.2 695.1h.01M1574.6 650.1h.01M1208.7 1065.4h.01M1270.4 339.4h.01M1072.7 583.7h.01M1507.8 774.3h.01M929.0 756.1h.01M1279.6 1042.8h.01M1617.8 900.3h.01M1664.6 525.7h.01M1233.3 626.6h.01M1396.9 854.3h.01M1067.1 487.5h.01M1157.4 1033.5h.01M1111.7 453.3h.01M1152.1 1134.9h.01M1119.1 764.4h.01M1216.1 529.1h.01M908.1 694.0h.01M1566.6 837.1h.01M1560.9 876.0h.01M1485.7 654.6h.01M1284.7 609.0h.01M1457.6 959.0h.01M1306.3 513.4h.01M1184.7 1129.4h.01M1614.9 726.3h.01M1171.6 988.8h.01M1130.4 827.1h.01M1315.9 760.7h.01M1166.9 473.0h.01M1603.1 807.1h.01M1545.6 850.7h.01M1196.0 987.4h.01M1474.0 1153.3h.01M1321.3 816.0h.01M1249.0 591.4h.01M1190.4 496.0h.01M1268.5 956.9h.01M1228.5 927.2h.01M1486.0 637.0h.01M1267.6 650.4h.01M1159.8 895.7h.01M1392.5 961.3h.01M1206.8 532.6h.01M1609.6 699.4h.01M1605.9 527.2h.01M1342.7 503.6h.01M1434.7 868.9h.01M1681.6 745.2h.01M1114.3 570.2h.01M1287.5 798.0h.01M1309.9 1048.1h.01M1423.5 772.2h.01M1209.9 568.3h.01M1344.7 452.8h.01M1334.6 371.8h.01M1216.9 326.2h.01M1195.4 831.4h.01M1304.1 754.3h.01M1387.5 995.4h.01M942.5 764.0h.01M1110.2 542.6h.01M1034.5 835.3h.01M925.7 607.8h.01M1419.9 1188.3h.01M1001.9 784.4h.01M1377.7 868.1h.01M1689.9 754.8h.01M1124.2 618.3h.01M993.4 522.9h.01M920.5 583.0h.01M1476.9 903.1h.01M1217.6 1029.7h.01M1219.8 813.9h.01M1135.1 456.9h.01M1220.9 1231.5h.01M1454.9 516.9h.01M1367.7 1034.4h.01M1607.8 448.1h.01M1247.1 949.8h.01M1052.6 750.8h.01M1522.4 805.4h.01M1264.0 658.6h.01M1265.2 311.0h.01M1194.2 896.1h.01M1209.7 666.6h.01M1154.5 1055.1h.01M1576.3 689.0h.01M1314.6 744.9h.01M1074.4 750.2h.01M1113.6 847.7h.01M1516.5 448.5h.01M1538.2 843.4h.01M1205.1 503.5h.01M1644.1 689.8h.01M1650.7 655.5h.01M884.1 636.9h.01M1401.4 535.4h.01M1010.8 582.6h.01M1017.5 789.5h.01M1489.5 574.3h.01M1582.1 909.3h.01M1114.8 865.7h.01M1483.3 661.4h.01M1329.0 907.8h.01M1402.9 592.1h.01M1065.7 860.7h.01M1210.2 1160.7h.01M1101.0 791.9h.01M1103.5 448.9h.01M902.9 665.3h.01M1614.7 720.7h.01M1548.0 926.1h.01M915.7 669.3h.01M1688.9 742.2h.01M1592.0 459.6h.01M980.8 738.4h.01M1084.1 400.4h.01M1279.6 734.1h.01M1250.1 945.2h.01M1179.5 463.2h.01M1236.2 913.1h.01M1561.7 669.0h.01M1434.8 609.8h.01M960.5 573.5h.01M1267.5 289.4h.01M1226.9 346.8h.01M915.3 688.7h.01M978.5 590.6h.01M1227.2 682.2h.01M1290.6 1202.2h.01M1345.3 979.0h.01M1021.6 687.5h.01M1137.0 507.9h.01M1205.9 1013.1h.01M1438.6 1177.0h.01M989.2 700.0h.01M1070.3 921.6h.01M1513.3 517.2h.01M1636.7 503.3h.01M1104.4 603.2h.01M1501.4 477.2h.01M1398.9 795.3h.01M1077.6 864.5h.01M909.9 684.3h.01M1184.6 423.3h.01M1256.5 1048.6h.01M955.4 628.2h.01M1514.4 565.5h.01M1603.9 757.5h.01M1419.4 478.7h.01M1380.6 417.7h.01M1014.8 622.1h.01M1339.0 604.3h.01M1281.5 408.1h.01M1683.6 784.1h.01M1567.9 551.9h.01M994.5 834.9h.01M1016.8 681.7h.01M1568.8 656.7h.01M1535.2 524.4h.01M1080.8 599.0h.01M1222.4 318.3h.01M1359.8 459.4h.01M1090.6 645.2h.01M928.4 640.2h.01M1130.2 653.1h.01M1611.2 746.2h.01M1318.6 543.9h.01M1403.8 846.0h.01M1381.6 931.8h.01M875.5 658.1h.01M1242.5 1018.8h.01M958.2 769.9h.01M975.5 762.2h.01M1313.8 239.2h.01M1006.2 705.8h.01M945.6 675.7h.01M1088.3 778.5h.01M998.6 802.8h.01M1529.2 467.3h.01M1327.9 461.4h.01M1577.5 712.2h.01M1492.6 626.8h.01M1545.0 410.4h.01M1419.2 752.9h.01M1370.2 852.1h.01M1017.0 592.9h.01M1086.1 679.5h.01M1594.0 869.9h.01M1382.5 633.3h.01M1123.0 1020.2h.01M933.5 699.2h.01M1005.6 803.8h.01M1137.8 482.2h.01M1264.8 506.0h.01M1564.6 632.4h.01M1175.4 441.5h.01M1002.0 776.1h.01M1218.9 822.0h.01M1535.6 937.4h.01M1494.6 1012.0h.01M1532.8 704.4h.01M1044.1 562.6h.01M1168.1 1113.9h.01M1257.5 644.0h.01M1661.5 611.0h.01M1023.7 674.7h.01M1243.5 1237.0h.01M1409.9 787.6h.01M1600.6 883.9h.01M1532.2 761.2h.01M1200.5 1167.4h.01M1122.9 426.0h.01M1232.6 1064.2h.01M1189.8 490.5h.01M1149.4 448.0h.01M1287.4 390.5h.01M1083.3 802.7h.01M1301.5 269.5h.01M1574.1 905.9h.01M1177.8 1219.8h.01M1126.3 421.3h.01M1118.5 784.3h.01M903.8 700.0h.01M1425.7 1180.3h.01M1206.7 337.0h.01M1523.2 698.9h.01M1213.9 969.0h.01M1429.5 1046.8h.01M1278.7 705.3h.01M967.1 672.8h.01M1334.4 259.1h.01M1075.7 958.3h.01M1649.9 661.5h.01M1596.7 583.5h.01M1371.2 859.5h.01M1474.1 481.5h.01M1240.4 1181.0h.01M935.6 611.6h.01M1233.4 389.9h.01M1249.9 396.7h.01M1125.3 938.9h.01M1315.1 291.6h.01M967.7 608.5h.01M1516.7 751.0h.01M1455.7 550.2h.01M1325.8 700.0h.01M1075.7 857.9h.01M1309.9 481.3h.01M1366.5 648.2h.01M1438.1 711.4h.01M1148.8 463.0h.01M1324.6 602.3h.01M1380.9 1222.2h.01M1223.6 1082.3h.01M1601.7 633.9h.01M1634.3 482.4h.01M1574.1 561.4h.01M1004.9 632.0h.01M1488.5 1019.7h.01M1098.8 729.8h.01M1414.0 1210.6h.01M1186.0 821.6h.01M1244.8 1085.3h.01M1374.4 1217.3h.01M1524.7 920.7h.01M1203.5 344.4h.01M1009.2 516.8h.01M934.0 642.9h.01M1291.7 432.5h.01M1307.5 952.2h.01M1151.9 829.5h.01M1379.6 954.7h.01M1207.7 595.4h.01M953.2 719.3h.01M1125.6 415.3h.01M1315.5 358.7h.01M1008.3 755.8h.01M1208.1 802.0h.01M1130.4 910.0h.01M1422.8 576.0h.01M1220.7 1221.6h.01M995.6 546.0h.01M1389.0 821.7h.01M1070.4 871.5h.01M929.7 687.1h.01M1144.9 855.2h.01M1186.3 1200.6h.01M1521.0 588.0h.01M1108.4 510.0h.01M1030.6 724.6h.01M1215.6 1045.0h.01M1022.0 785.0h.01M1242.5 571.4h.01M1064.2 727.2h.01M1441.6 1009.1h.01M953.8 603.9h.01M1065.9 464.1h.01M1374.9 863.7h.01M1596.4 666.2h.01M1255.6 1025.2h.01M1363.7 984.0h.01M1231.2 1157.0h.01M1270.7 838.1h.01M1551.1 413.3h.01M1291.0 521.8h.01M1464.7 746.5h.01M1337.4 1053.6h.01M1117.1 470.7h.01M1205.8 982.3h.01M1243.3 660.0h.01M1667.2 656.2h.01M1434.7 464.5h.01M1229.3 477.7h.01M1160.3 988.7h.01M1237.3 961.1h.01M1531.4 891.0h.01M900.6 638.8h.01M1147.4 333.8h.01M1628.0 639.4h.01M1472.6 665.0h.01M1578.1 587.5h.01M1357.3 1181.4h.01M936.2 784.9h.01M933.3 680.1h.01M1505.4 518.8h.01M1240.4 544.0h.01M1346.6 585.7h.01M1602.3 545.1h.01M1238.8 820.1h.01M1254.2 974.2h.01M1265.3 982.9h.01M1102.1 399.5h.01M1480.4 475.4h.01M1377.0 448.3h.01M1349.5 1198.0h.01M1268.0 518.2h.01M1239.6 640.0h.01M985.7 606.0h.01M986.1 566.0h.01M1092.0 518.6h.01M1235.6 1193.4h.01M1405.0 429.3h.01M1487.5 832.6h.01M1170.7 1005.9h.01M1236.8 382.6h.01M1303.8 1009.6h.01M1098.6 816.7h.01M878.7 674.3h.01M1406.0 962.9h.01M1329.0 1173.2h.01M1258.5 1058.3h.01M1459.5 538.8h.01M1577.5 848.1h.01M1518.1 726.5h.01M1612.3 675.2h.01M1276.1 892.5h.01M1620.1 864.8h.01M1419.9 1037.1h.01M1196.9 1084.5h.01M1316.5 677.2h.01M1179.6 912.6h.01M1565.1 546.8h.01M1337.9 761.9h.01M1051.5 525.8h.01M1183.3 1061.5h.01M1402.9 849.7h.01M1012.5 656.0h.01M1542.9 363.9h.01M1633.8 550.4h.01M1142.8 1032.7h.01M1319.9 517.6h.01M1143.6 625.5h.01M1131.2 885.8h.01M1191.6 357.6h.01M1261.1 499.7h.01M1547.9 748.1h.01M1200.2 563.7h.01M1394.7 1204.4h.01M1081.0 568.9h.01M1518.0 647.8h.01M1152.2 1026.0h.01M1636.9 715.6h.01M1375.9 906.8h.01M1284.2 929.4h.01M1385.5 922.7h.01M1501.8 417.7h.01M1179.3 549.5h.01M1214.1 1174.3h.01M1294.9 961.7h.01M1501.4 323.2h.01M1358.0 828.9h.01M1514.9 1014.5h.01M1556.5 530.2h.01M1094.6 607.7h.01M1125.7 883.8h.01M1643.8 829.6h.01M1211.1 989.8h.01M1542.5 403.7h.01M1160.5 652.5h.01M1293.0 350.4h.01M1218.9 1075.5h.01M1293.1 733.0h.01M1660.0 646.7h.01M1228.3 573.5h.01M1255.4 1126.3h.01M1253.6 331.0h.01M1670.6 808.0h.01M1181.9 1042.7h.01M1348.7 222.9h.01M1192.1 530.8h.01M1108.4 534.1h.01M1419.2 538.4h.01M1387.2 1008.3h.01M1254.5 340.9h.01M1161.2 436.9h.01M1299.4 969.6h.01M1058.5 859.7h.01M1344.1 614.8h.01M1545.6 743.1h.01M1479.2 816.3h.01M1037.9 800.2h.01M1106.0 850.2h.01M1479.2 780.3h.01M1240.3 985.1h.01M1194.4 530.2h.01M1568.6 849.6h.01M1067.7 628.9h.01M1237.6 997.9h.01M1127.2 986.3h.01M1401.6 1223.6h.01M1531.5 896.3h.01M1592.2 621.3h.01M1162.0 384.8h.01M1572.8 568.4h.01M1240.1 562.1h.01M963.1 546.3h.01M1199.5 586.3h.01M1494.4 741.0h.01M1628.6 797.4h.01M1271.8 681.9h.01M991.8 772.8h.01M1573.0 675.6h.01M1279.8 859.3h.01M1589.3 446.2h.01M1635.3 630.9h.01M1093.4 398.0h.01M1177.2 491.6h.01M1516.7 420.0h.01M1016.2 753.4h.01M1152.0 1175.0h.01M1427.3 478.4h.01M1487.0 668.2h.01M1443.9 550.0h.01M950.7 702.8h.01M1113.6 524.9h.01M1631.5 651.3h.01M1200.7 574.5h.01M1244.7 685.0h.01M1029.1 690.2h.01M1364.9 1058.9h.01M1323.8 632.9h.01M1278.0 943.1h.01M1244.9 430.3h.01M1345.4 1009.0h.01M1518.0 832.5h.01M1281.0 969.3h.01M1100.5 873.6h.01M1428.6 1126.3h.01M1150.9 919.0h.01M1194.3 349.1h.01M1052.2 651.0h.01M1527.8 751.3h.01M1236.3 692.2h.01M1678.9 779.6h.01M1195.7 1211.0h.01M1669.9 567.3h.01M1078.3 613.3h.01M1320.4 857.7h.01M1291.5 747.1h.01M1476.6 654.7h.01M1678.8 810.9h.01M1409.0 696.1h.01M1219.1 274.9h.01M1409.8 895.2h.01M1075.3 670.5h.01M1099.1 546.6h.01M977.5 621.9h.01M1397.3 962.4h.01M974.4 737.4h.01M1465.4 653.5h.01M1316.4 696.1h.01M1624.1 542.3h.01M972.1 624.0h.01M1338.4 1002.4h.01M1402.4 282.9h.01M1193.9 537.6h.01M1256.9 945.7h.01M1428.7 629.1h.01M1500.4 348.9h.01M999.1 677.0h.01M1188.7 841.3h.01M911.2 685.6h.01M1481.7 757.0h.01M1281.1 961.0h.01M1162.8 463.0h.01M1145.1 1051.0h.01M1504.8 735.0h.01M1584.9 550.2h.01M1143.3 449.2h.01M1315.5 1055.7h.01M1467.7 1134.5h.01M1517.2 925.9h.01M1652.7 673.9h.01M1139.1 598.1h.01M1663.2 522.9h.01M1566.0 534.3h.01M941.8 729.1h.01M907.7 671.2h.01M1470.0 687.0h.01M1146.8 814.0h.01M1262.2 566.9h.01M1504.1 885.9h.01M1267.3 261.4h.01M1492.5 986.7h.01M934.1 697.2h.01M1157.8 646.8h.01M946.4 692.6h.01M1135.5 777.4h.01M1317.7 717.5h.01M941.3 560.7h.01M919.7 612.7h.01M1237.0 1046.9h.01M1229.9 272.5h.01M1257.8 933.9h.01M1104.2 962.9h.01M1254.8 965.5h.01M1313.5 843.1h.01M1523.9 429.0h.01M1327.9 229.3h.01M1561.0 639.5h.01M1329.9 1068.0h.01M971.1 687.2h.01M1299.5 724.3h.01M1637.6 841.7h.01M991.3 729.5h.01M1283.8 367.2h.01M1361.3 506.3h.01M1374.3 426.1h.01M1209.0 491.7h.01M1202.9 606.0h.01M1522.2 921.6h.01M1157.1 402.4h.01M1688.0 592.8h.01M1585.0 503.5h.01M1100.0 537.2h.01M1131.1 932.0h.01M1065.8 562.9h.01M1487.7 531.9h.01M988.4 815.9h.01M1452.5 452.7h.01M1509.8 451.8h.01M1504.8 701.5h.01M1439.2 1148.3h.01M1270.2 975.5h.01M914.3 678.2h.01M1004.1 840.4h.01M1425.9 745.6h.01M1327.2 415.5h.01M1172.0 1104.6h.01M1601.4 586.5h.01M1348.8 382.3h.01M1231.3 1006.6h.01M1275.6 678.3h.01M1575.6 533.5h.01M1356.4 401.7h.01M1526.2 708.0h.01M1428.8 344.4h.01M1574.3 655.8h.01M1541.7 920.8h.01M1359.3 724.8h.01M1630.5 833.5h.01M1536.0 816.9h.01M1122.5 624.1h.01M1309.0 419.3h.01M1368.9 1198.5h.01M930.3 599.0h.01M1652.6 775.4h.01M1109.7 762.3h.01M1543.0 517.5h.01M1477.4 624.7h.01M1149.3 524.9h.01M1263.5 577.4h.01M1324.5 410.1h.01M1129.5 362.6h.01M1207.5 1003.1h.01M1362.7 630.2h.01M1235.7 1128.4h.01M1435.4 1001.0h.01M1126.5 631.5h.01M960.9 584.9h.01M1589.7 887.0h.01M1275.8 796.8h.01M1345.9 1050.6h.01M1280.0 975.7h.01M990.8 782.0h.01M1529.9 944.6h.01M1561.2 543.4h.01M987.1 668.8h.01M1129.2 992.7h.01M1165.7 883.5h.01M965.3 774.3h.01M1101.9 860.6h.01M1319.0 978.2h.01M1690.2 640.5h.01M1660.0 534.7h.01M1655.5 637.8h.01M1328.9 874.9h.01M1252.6 698.8h.01M1472.3 307.7h.01M1389.9 846.4h.01M1141.0 999.0h.01M1186.0 512.1h.01M1577.2 720.4h.01M1231.4 952.4h.01M1067.8 675.7h.01M1547.3 966.6h.01M1052.5 516.0h.01M1269.7 552.3h.01M1088.9 890.3h.01M1362.0 476.5h.01M1223.9 587.0h.01M1191.4 1137.1h.01M1315.0 799.4h.01M1100.0 483.3h.01M1200.3 1134.3h.01M1379.9 562.2h.01M1258.7 971.6h.01M1150.2 469.5h.01M1241.8 1187.1h.01M1424.7 1009.3h.01M1376.9 1208.7h.01M1256.2 989.7h.01M1272.0 726.0h.01M1107.1 631.5h.01M1140.9 401.3h.01M1297.0 697.1h.01M1188.2 983.9h.01M1484.7 713.0h.01M1461.2 890.0h.01M1118.2 882.4h.01M1417.3 766.9h.01M1210.4 1075.5h.01M1371.4 456.0h.01M1495.7 898.3h.01M1613.6 639.7h.01M1445.5 1162.4h.01M1476.4 565.9h.01M1570.8 680.0h.01M1225.5 311.4h.01M1403.9 709.4h.01M1155.0 911.6h.01M1534.7 489.6h.01M1436.6 796.0h.01M1601.9 695.7h.01M1096.3 530.3h.01M1468.4 670.9h.01M1590.2 545.2h.01M976.5 768.9h.01M1211.4 386.7h.01M1078.7 775.2h.01M1169.2 451.7h.01M1287.5 291.9h.01M1524.9 895.5h.01M1041.8 487.3h.01M1074.5 553.3h.01M1284.3 1201.6h.01M1250.2 309.2h.01M1209.5 1041.8h.01M1513.3 675.0h.01M934.6 707.4h.01M1336.6 837.4h.01M1043.8 667.2h.01M952.7 778.9h.01M1120.5 407.9h.01M977.1 803.9h.01M1440.3 1189.5h.01M896.2 644.6h.01M1284.7 419.3h.01M1531.4 997.3h.01M1043.3 492.7h.01M1260.4 1147.9h.01M1217.7 558.8h.01M1687.0 647.0h.01M1666.6 798.6h.01M1119.8 860.2h.01M1671.3 736.9h.01M1471.3 296.6h.01M1202.5 1107.0h.01M1358.4 537.0h.01M1180.9 885.1h.01M1151.2 362.5h.01M1354.6 237.0h.01M998.7 779.3h.01M1199.7 1217.1h.01M1009.9 788.7h.01M1096.8 612.9h.01M1391.2 406.0h.01M1189.5 957.3h.01M1144.4 970.3h.01M1294.1 726.8h.01M1319.1 568.7h.01M1301.7 587.9h.01M1248.0 960.3h.01M1586.1 897.8h.01M1607.9 725.7h.01M1271.2 307.1h.01M1191.7 306.3h.01M1586.0 682.5h.01M1563.0 558.9h.01M1338.3 464.7h.01M1287.7 498.8h.01M1229.8 603.1h.01M1171.4 406.7h.01M1061.7 890.6h.01M1580.9 881.7h.01M1230.8 946.7h.01M1407.1 468.0h.01M1281.7 479.8h.01M1193.8 1219.6h.01M1181.6 998.0h.01M1040.9 653.5h.01M1689.1 623.5h.01M1468.5 717.4h.01M1634.4 764.0h.01M1317.2 420.5h.01M1185.1 463.5h.01M1434.6 1164.9h.01M1234.5 537.6h.01M1611.2 688.5h.01M1296.3 579.5h.01M1213.4 337.3h.01M1244.0 1004.9h.01M1505.7 859.7h.01M1225.2 1036.9h.01M927.6 659.1h.01M1500.7 663.0h.01M1137.8 409.5h.01M1256.2 649.3h.01M1264.3 539.7h.01M1119.8 494.2h.01M912.4 685.7h.01M1023.4 544.2h.01M1234.3 1158.8h.01M968.6 692.1h.01M1298.1 321.1h.01M1529.0 990.1h.01M1611.4 646.5h.01M1659.0 813.8h.01M1257.1 483.7h.01M1164.4 479.5h.01M1302.1 683.6h.01M1389.4 530.5h.01M878.8 649.2h.01M1495.3 655.7h.01M1053.7 510.5h.01M1330.4 304.4h.01M1411.5 853.0h.01M1341.1 909.0h.01M1484.2 1157.4h.01M1023.0 729.3h.01M1422.4 995.9h.01M1404.9 636.2h.01M1553.1 643.3h.01M1295.5 315.3h.01M902.6 715.8h.01M1170.2 360.6h.01M1156.2 1048.0h.01M1118.4 420.3h.01M1467.3 1179.8h.01M1001.8 513.7h.01M1193.5 365.4h.01M1314.8 733.8h.01M1293.0 245.9h.01M1265.0 679.8h.01M1548.1 682.9h.01M1308.0 552.3h.01M1013.6 804.3h.01M989.8 544.1h.01M1066.1 716.8h.01M1480.5 649.8h.01M1680.9 656.6h.01M1543.5 603.8h.01M985.5 801.3h.01M1090.2 590.7h.01M1376.0 834.9h.01M1301.2 1167.5h.01M1522.0 656.0h.01M1056.9 474.4h.01M1479.4 1136.6h.01M1481.0 316.4h.01M1264.6 1219.1h.01M1246.6 540.5h.01M1659.4 765.8h.01M1480.8 313.6h.01M1243.7 614.9h.01M1486.3 630.1h.01M1346.3 996.0h.01M1360.0 570.4h.01M1032.8 724.6h.01M1370.3 582.4h.01M1112.6 371.1h.01M1148.2 489.6h.01M1554.7 572.0h.01M1049.5 867.2h.01M1300.0 887.2h.01M1338.1 1009.4h.01M1060.8 642.2h.01M1108.7 486.3h.01M1301.7 601.5h.01M1528.2 651.0h.01M1229.0 1079.7h.01M982.8 715.9h.01M1499.6 636.5h.01M1218.3 1025.0h.01M1193.0 471.4h.01M1243.8 999.3h.01M1505.9 487.6h.01M1334.5 735.2h.01M1063.3 592.1h.01M1419.1 447.4h.01M1416.2 1226.7h.01M1235.6 1222.2h.01M1110.4 893.5h.01M1295.5 358.0h.01M975.1 662.1h.01M1635.9 829.0h.01M1421.1 912.7h.01M1407.7 930.8h.01M1301.9 366.9h.01M1591.5 910.6h.01M1582.6 794.4h.01M1242.2 506.2h.01M1292.9 792.1h.01M1013.5 745.3h.01M1227.3 992.1h.01M1354.7 738.1h.01M1307.0 591.2h.01M998.0 755.5h.01M1547.1 843.5h.01M1177.4 969.7h.01M1003.2 661.7h.01M1607.6 737.2h.01M1605.4 865.6h.01M1211.7 344.4h.01M1210.7 1110.8h.01M1010.4 597.7h.01M1269.4 420.9h.01M1224.8 656.2h.01M1297.8 407.0h.01M1398.9 814.8h.01M1130.6 517.3h.01M1384.4 854.8h.01M1703.2 602.8h.01M1642.8 548.4h.01M1163.1 357.1h.01M1543.4 827.7h.01M1346.7 575.5h.01M1115.3 925.3h.01M1102.7 563.9h.01M1279.6 511.6h.01M1052.9 698.4h.01M1491.3 549.7h.01M1085.5 697.4h.01M1361.9 469.7h.01M1477.0 1166.8h.01M965.8 733.4h.01M1130.0 599.9h.01M1600.1 673.7h.01M1279.0 747.9h.01M1153.3 654.9h.01M1120.7 569.0h.01M1065.4 758.4h.01M1082.4 909.9h.01M1572.0 592.2h.01M1058.1 692.6h.01M1048.9 705.2h.01M1251.8 402.7h.01M1343.4 944.1h.01M1252.0 1002.4h.01M1482.8 642.3h.01M1165.7 429.9h.01M1576.7 625.6h.01M1051.6 876.9h.01M1205.3 937.1h.01M1341.6 609.3h.01M1401.1 546.7h.01M1056.9 544.1h.01M1533.5 906.9h.01M1506.6 681.7h.01M1599.2 929.2h.01M1165.1 664.9h.01M1525.7 546.4h.01M1392.3 1181.0h.01M1168.6 335.9h.01M1384.5 536.0h.01M1328.9 509.9h.01M1171.5 370.6h.01M1620.3 670.1h.01M1181.9 866.5h.01M1380.1 557.2h.01M1520.2 906.4h.01M1526.6 865.3h.01M1204.4 689.6h.01M1677.6 759.5h.01M1276.5 349.8h.01M1017.8 747.6h.01M1324.9 724.8h.01M1392.1 778.0h.01M1482.7 618.3h.01M1310.9 836.7h.01M1175.2 523.7h.01M1510.6 664.6h.01M1045.2 925.2h.01M1337.0 538.8h.01M1309.3 804.9h.01M1248.8 969.2h.01M1190.2 382.1h.01M1646.6 747.3h.01M1351.6 911.5h.01M1128.7 448.8h.01M1476.9 641.5h.01M1117.4 453.1h.01M1580.0 757.7h.01M1277.9 1075.9h.01M991.4 789.7h.01M936.6 737.0h.01M1156.7 541.8h.01M1207.0 926.7h.01M1567.4 922.4h.01M1096.4 675.4h.01M1278.9 1030.7h.01M1115.2 458.9h.01M1521.6 982.9h.01M1295.9 300.5h.01M1089.8 565.1h.01M1242.4 949.6h.01M1546.1 902.2h.01M1300.2 877.1h.01M1205.2 581.9h.01M1379.8 613.1h.01M1419.8 901.0h.01M1414.5 586.8h.01M1202.3 387.4h.01M1293.3 742.7h.01M1460.6 686.4h.01M918.0 606.8h.01M1547.9 895.2h.01M964.3 707.9h.01M1274.8 864.4h.01M1128.9 378.6h.01M1479.4 607.6h.01M1272.5 267.3h.01M1324.6 300.6h.01M1524.5 639.9h.01M960.0 695.7h.01M1380.3 911.6h.01M1523.3 574.7h.01M1590.5 760.9h.01M1390.3 859.5h.01M1624.3 869.0h.01M1554.9 511.9h.01M1172.8 500.6h.01M1005.6 690.0h.01M1143.1 1156.2h.01M1194.3 578.4h.01M1654.9 552.6h.01M1193.8 429.4h.01M1240.2 409.3h.01M1406.6 576.5h.01M1509.6 780.9h.01M1666.9 774.3h.01M1523.4 968.0h.01M881.9 692.6h.01M1309.9 369.6h.01M1196.4 969.9h.01M1247.7 481.3h.01M1063.4 493.8h.01M1526.7 663.6h.01M1632.0 565.5h.01M1217.7 930.8h.01M1485.7 751.1h.01M1468.9 750.7h.01M1246.9 810.5h.01M973.8 732.2h.01M1230.8 640.8h.01M1343.3 545.1h.01M999.3 689.4h.01M1503.5 319.1h.01M1686.4 747.0h.01M1657.6 780.2h.01M1212.3 1126.6h.01M1318.8 776.7h.01M1199.1 549.2h.01M1001.7 711.4h.01M1431.5 1152.0h.01M1117.7 917.3h.01M1594.5 894.6h.01M1140.8 617.7h.01M1216.6 305.3h.01M1319.4 408.8h.01M921.7 687.4h.01M1077.6 884.3h.01M1220.0 1015.1h.01M1540.7 418.2h.01M1187.9 428.3h.01M1035.2 619.6h.01M914.3 646.7h.01M925.8 699.7h.01M1226.0 459.9h.01M1286.7 1070.1h.01M1577.1 669.7h.01M1086.8 880.6h.01M1446.3 487.8h.01M1538.3 955.3h.01M1623.3 681.0h.01M1592.8 638.8h.01M1114.2 446.8h.01M1416.7 636.9h.01M1284.1 401.8h.01M1377.7 856.1h.01M1273.2 825.1h.01M1184.0 577.4h.01M1142.0 431.3h.01M1240.6 292.5h.01M1275.2 846.3h.01M1098.5 963.4h.01M1154.9 659.9h.01M1574.0 547.6h.01M1524.9 538.7h.01M1247.1 986.1h.01M1230.6 633.4h.01M1195.5 964.5h.01M1599.1 909.4h.01M1061.1 445.7h.01M1083.1 940.7h.01M1127.3 1030.7h.01M999.5 639.5h.01M1357.9 795.7h.01M1358.6 857.7h.01M1405.8 836.3h.01M1203.5 767.8h.01M1046.8 541.8h.01M1285.6 279.4h.01M1101.7 932.7h.01M904.5 678.5h.01M1198.3 839.7h.01M1040.9 852.5h.01M1331.2 775.4h.01M1577.7 618.4h.01M1240.2 363.0h.01M1309.5 437.4h.01M1548.4 570.8h.01M1587.0 690.8h.01M1356.4 490.1h.01M1368.3 438.0h.01M1364.1 222.4h.01M1521.6 684.1h.01M1035.0 658.8h.01M1508.5 411.2h.01M1232.9 287.8h.01M1070.4 944.3h.01M996.4 669.6h.01M986.7 702.7h.01M1386.8 810.2h.01M1650.6 653.6h.01M947.8 626.2h.01M1511.1 544.4h.01M1250.0 279.9h.01M1142.0 1146.2h.01M1533.1 744.6h.01M1535.1 870.8h.01M1325.7 474.4h.01M1235.8 508.6h.01M974.6 624.8h.01M1246.9 284.6h.01M1032.9 564.4h.01M1105.7 968.3h.01M1570.7 710.2h.01M1301.5 762.8h.01M1266.6 1114.2h.01M1246.6 931.0h.01M1609.6 799.9h.01M1668.1 508.0h.01M1486.2 993.1h.01M1420.6 781.5h.01M1643.4 766.1h.01M1693.2 598.6h.01M1132.7 895.8h.01M1050.9 902.1h.01M1393.7 835.1h.01M1125.6 1022.9h.01M1642.8 556.3h.01M1569.4 419.9h.01M1106.0 370.5h.01M1509.3 480.3h.01M1287.2 814.1h.01M1593.3 841.5h.01M1170.3 611.7h.01M1326.1 484.5h.01M1409.4 539.4h.01M1503.4 486.5h.01M1583.4 885.4h.01M1351.9 407.2h.01M1545.8 906.8h.01M900.2 658.6h.01M981.3 818.3h.01M983.4 729.9h.01M1022.4 726.2h.01M1306.3 559.8h.01M1379.7 1182.1h.01M1160.4 763.4h.01M1326.3 450.1h.01M1530.4 531.1h.01M1191.5 1048.2h.01M1210.2 856.9h.01M1331.0 720.6h.01M1170.5 570.7h.01M1281.2 783.0h.01M977.5 605.4h.01M1253.4 599.0h.01M1097.5 606.9h.01M984.8 693.2h.01M1456.8 637.4h.01M1008.0 780.8h.01M1228.1 1164.9h.01M1168.0 1165.4h.01M1237.2 370.8h.01M1636.0 531.9h.01M1253.7 737.2h.01M958.8 719.7h.01M1241.3 974.7h.01M1264.8 960.5h.01M1492.7 447.0h.01M1588.3 775.4h.01M1243.3 639.0h.01M949.9 637.8h.01M1469.0 652.7h.01M1159.3 585.8h.01M1439.9 769.5h.01M1022.5 759.8h.01M1049.8 873.5h.01M1485.8 603.9h.01M1231.3 936.8h.01M1417.1 942.5h.01M1300.4 574.5h.01M1307.3 311.0h.01M1543.8 933.2h.01M1256.8 1038.7h.01M970.0 592.8h.01M1233.5 321.7h.01M1189.3 1078.5h.01M1218.0 661.1h.01M1291.3 902.5h.01M1248.0 1120.6h.01M1182.3 947.4h.01M1422.4 709.5h.01M1148.4 825.0h.01M1339.3 250.7h.01M1347.7 421.6h.01M1296.7 341.5h.01M1559.6 776.0h.01M1429.6 572.8h.01M885.1 658.6h.01M1315.7 782.7h.01M1085.5 515.2h.01M1605.5 471.5h.01M1402.8 564.7h.01M1136.1 1130.9h.01M995.7 734.0h.01M1237.3 1012.4h.01M1508.6 755.3h.01M1147.4 1021.3h.01M1065.4 434.3h.01M1379.8 543.8h.01M1460.7 699.8h.01M1403.8 902.0h.01M1541.6 875.0h.01M1224.6 944.4h.01M965.6 702.6h.01M1257.8 359.9h.01M1273.6 982.2h.01M1178.4 954.4h.01M1513.5 1050.2h.01M1163.4 1012.8h.01M1471.1 1142.3h.01M1488.8 617.8h.01M1459.3 1021.4h.01M1225.1 1045.3h.01M1235.8 965.1h.01M1482.9 598.4h.01M1300.4 501.0h.01M1127.2 438.1h.01M1081.6 854.7h.01M1212.8 1225.0h.01M988.6 748.6h.01M1342.8 869.9h.01M1598.6 675.4h.01M1187.1 1029.2h.01M980.5 584.6h.01M1198.7 857.9h.01M1536.4 531.8h.01M1511.4 467.1h.01M1217.9 1139.1h.01M1114.6 974.5h.01M1467.2 451.7h.01M1642.2 528.5h.01M1407.4 1186.0h.01M1253.2 1066.2h.01M1612.8 526.3h.01M941.5 568.1h.01M1292.3 538.9h.01M1094.8 619.8h.01M1267.3 300.1h.01M1221.4 1052.4h.01M988.8 833.4h.01M1374.3 464.3h.01M1283.3 849.1h.01M1591.6 785.1h.01M1353.8 1004.1h.01M1048.8 772.2h.01M1537.4 862.1h.01M1247.2 455.9h.01M1465.7 776.3h.01M1121.0 598.2h.01M1306.3 505.7h.01M1151.9 589.7h.01M1119.9 854.5h.01M1176.2 420.0h.01M1247.6 533.1h.01M1534.2 972.5h.01M1210.2 606.7h.01M1515.3 718.9h.01M1540.5 854.9h.01M1664.7 664.1h.01M1340.6 1021.0h.01M943.6 604.6h.01M1487.3 555.2h.01M1392.0 768.9h.01M906.8 677.7h.01M939.3 658.7h.01M1317.1 384.4h.01M1229.2 938.6h.01M1357.9 413.9h.01M1250.4 490.9h.01M1454.8 546.5h.01M1357.2 374.1h.01M1129.7 1016.1h.01M1099.1 854.2h.01M1360.1 959.8h.01M1366.9 392.4h.01M1569.6 551.9h.01M1244.1 1129.9h.01M1298.0 505.7h.01M1568.3 939.2h.01M1059.3 655.1h.01M1366.0 429.7h.01M938.8 698.7h.01M1190.4 1149.6h.01M1210.6 558.0h.01M1225.7 616.4h.01M1232.8 447.9h.01M986.5 625.6h.01M1313.0 1210.0h.01M952.8 695.5h.01M960.9 642.1h.01M1048.1 531.0h.01M1029.9 661.0h.01M1179.2 565.0h.01M1226.7 522.6h.01M1371.2 1158.7h.01M1553.9 674.7h.01M1044.2 910.4h.01M1180.8 989.6h.01M1298.6 544.7h.01M1192.8 621.8h.01M1217.2 315.2h.01M1173.1 457.4h.01M1329.5 1223.9h.01M1248.8 748.8h.01M1212.7 285.6h.01M898.4 649.5h.01M1340.4 1151.4h.01M1007.8 733.8h.01M1154.0 1011.5h.01M1230.9 415.3h.01M1363.3 403.5h.01M1654.8 519.9h.01M1191.8 1206.3h.01M936.4 568.2h.01M1538.6 741.0h.01M1359.2 421.8h.01M1335.7 497.1h.01M1385.1 886.4h.01M1225.9 693.4h.01M1335.4 1188.6h.01M996.5 562.8h.01M1561.3 937.2h.01M943.8 707.4h.01M1445.7 307.7h.01M1577.3 824.8h.01M965.9 688.5h.01M908.3 668.7h.01M1145.6 455.6h.01M1187.5 503.9h.01M1074.8 599.3h.01M935.5 673.3h.01M1476.9 610.3h.01M1285.7 593.0h.01M1294.6 765.1h.01M1085.6 556.8h.01M1218.6 992.6h.01M1352.4 509.1h.01M1387.2 694.5h.01M1660.4 669.2h.01M1196.7 1187.4h.01M1338.1 419.0h.01M1699.7 707.5h.01M1298.0 558.3h.01M1134.2 614.8h.01M1304.3 408.4h.01M1595.3 834.1h.01M1612.2 894.9h.01M1346.1 623.5h.01M1338.0 1085.7h.01M1364.4 592.4h.01M1365.9 872.5h.01M1343.6 630.2h.01M1246.2 508.9h.01M1595.4 877.0h.01M1483.2 801.1h.01M1570.1 556.9h.01M1202.5 1198.9h.01M1608.8 900.6h.01M1346.7 752.9h.01M1279.0 918.4h.01M933.7 681.3h.01M922.0 708.6h.01M1523.0 934.0h.01M1485.0 1125.3h.01M1377.7 864.5h.01M1363.2 515.8h.01M1242.1 538.5h.01M1065.7 653.1h.01M1419.6 1165.7h.01M1211.6 1006.9h.01M1482.6 636.3h.01M976.2 597.4h.01M1553.8 938.6h.01M1046.3 852.1h.01M1181.0 392.1h.01M970.7 765.7h.01M1438.1 581.7h.01M1543.8 425.6h.01M952.7 583.0h.01M1604.8 891.5h.01M1581.1 886.2h.01M1240.5 939.9h.01M1616.3 632.6h.01M1652.5 810.9h.01M1382.7 236.4h.01M1395.8 1221.6h.01M1185.2 1018.7h.01M1378.8 571.3h.01M1433.8 963.8h.01M1270.0 928.2h.01M1399.6 785.4h.01M1640.5 724.6h.01M1236.9 265.1h.01M1282.1 338.6h.01M1315.9 1220.6h.01M1192.9 866.6h.01M1270.1 238.6h.01M1326.7 903.6h.01M1287.5 324.0h.01M1533.0 871.1h.01M1387.6 495.2h.01M1475.5 1177.1h.01M1186.6 484.6h.01M1038.5 844.0h.01M1039.8 880.3h.01M1302.4 335.5h.01M989.8 536.8h.01M1311.6 330.0h.01M1255.7 306.4h.01M1281.9 682.8h.01M1669.5 818.8h.01M1014.9 742.0h.01M1079.0 691.3h.01M1131.5 622.7h.01M950.6 668.7h.01M1447.4 926.1h.01M1037.6 665.6h.01M1145.7 522.3h.01M1639.8 518.1h.01M1242.4 1047.6h.01M1113.6 857.1h.01M1522.3 731.9h.01M1349.5 569.6h.01M1004.1 649.6h.01M1474.7 542.5h.01M1324.1 999.9h.01M1218.0 504.0h.01M1379.4 517.6h.01M1491.7 679.6h.01M1090.5 967.7h.01M904.1 723.3h.01M1476.8 650.6h.01M1120.2 504.2h.01M1306.8 966.9h.01M1200.5 1183.7h.01M1501.8 511.4h.01M1133.1 551.9h.01M1517.1 669.5h.01M1582.7 622.1h.01M1363.7 1116.2h.01M1261.9 551.2h.01M1167.1 1156.0h.01M1237.3 356.5h.01M1205.3 1179.4h.01M1156.1 1145.2h.01M1352.5 437.8h.01M1515.7 967.8h.01M1530.2 838.0h.01M1203.7 863.5h.01M1356.5 594.4h.01M1494.4 502.9h.01M1215.1 998.8h.01M1630.0 560.1h.01M912.5 658.9h.01M1192.1 528.7h.01M1170.0 855.8h.01M1278.3 401.7h.01M1314.7 647.4h.01M928.4 731.2h.01M1148.1 642.0h.01M1511.9 643.1h.01M1029.4 871.9h.01M962.0 753.3h.01M1628.9 751.8h.01M1265.5 410.3h.01M1584.7 925.3h.01M1100.2 924.3h.01M1480.7 1034.2h.01M1379.5 652.2h.01M1180.1 504.1h.01M1494.3 661.7h.01M1627.2 888.3h.01M1448.4 1202.3h.01M1142.0 864.3h.01M1425.6 1205.1h.01M1548.5 335.5h.01M1330.8 526.7h.01M1201.8 1042.6h.01M1088.8 655.3h.01M1340.8 579.4h.01M1403.5 616.5h.01M1541.2 484.3h.01M1221.5 1097.3h.01M1393.9 580.4h.01M1385.1 486.7h.01M1572.9 637.7h.01M1090.5 623.5h.01M1186.1 470.0h.01M1151.7 343.0h.01M1272.3 938.9h.01M1313.1 230.1h.01M1297.8 844.2h.01M1193.3 1025.3h.01M1054.9 767.3h.01M979.9 612.6h.01M1143.3 359.0h.01M1618.8 847.3h.01M1116.8 641.0h.01M1238.7 1150.8h.01M1248.0 914.2h.01M1554.8 810.9h.01M1327.1 993.3h.01M993.1 649.9h.01M1477.8 622.8h.01M1541.4 905.2h.01M968.3 584.6h.01M990.6 574.8h.01M1477.8 684.4h.01M1268.2 1012.4h.01M1567.0 389.3h.01M1628.0 659.1h.01M865.6 665.6h.01M1007.4 643.3h.01M1187.5 559.9h.01M1248.0 660.2h.01M1093.5 871.2h.01M1669.7 789.7h.01M1229.7 1073.0h.01M1285.7 557.0h.01M974.2 744.6h.01M1517.3 796.3h.01M1518.6 777.2h.01M1058.7 841.1h.01M1309.9 818.5h.01M1135.0 657.7h.01M1177.9 449.0h.01M1240.3 584.0h.01M1623.0 598.8h.01M1437.8 1195.0h.01M1135.0 469.2h.01M1211.7 645.1h.01M1582.4 647.3h.01M1205.5 651.8h.01M967.7 531.7h.01M1006.3 793.8h.01M1291.3 337.2h.01M1277.5 874.7h.01M1418.5 422.1h.01M1349.0 718.9h.01M1186.3 531.7h.01M1086.7 434.2h.01M1029.1 732.9h.01M1180.5 1005.5h.01M1536.8 673.3h.01M1186.3 494.9h.01M1687.3 568.6h.01M1183.2 556.3h.01M1454.4 791.2h.01M1699.0 612.3h.01M1131.1 560.0h.01M1329.3 833.2h.01M1335.9 1196.2h.01M1472.3 1177.6h.01M1553.8 653.1h.01M1263.6 590.8h.01M1484.5 590.5h.01M1295.9 550.7h.01M1484.4 1114.7h.01M1312.6 871.8h.01M986.4 534.4h.01M1169.6 479.1h.01M1335.6 995.5h.01M1406.5 745.7h.01M998.2 721.7h.01M991.0 717.1h.01M1456.0 988.0h.01M1007.7 818.1h.01M1452.2 1163.3h.01M1564.0 720.4h.01M1046.3 711.7h.01M915.3 688.8h.01M1237.4 1166.4h.01M1322.2 550.0h.01M1361.7 1151.1h.01M1255.4 920.1h.01M1520.7 975.3h.01M1011.4 811.8h.01M1004.4 769.9h.01M1045.6 688.5h.01M1687.7 695.6h.01M1008.5 654.0h.01M1385.0 1205.2h.01M1093.0 854.7h.01M1319.7 769.9h.01M1074.9 588.8h.01M1337.1 424.0h.01M1287.9 666.9h.01M1254.6 1191.0h.01M1243.7 1166.3h.01M1671.0 826.2h.01M1381.1 464.8h.01M1250.5 996.0h.01M1554.9 822.9h.01M1444.8 577.5h.01M978.6 636.0h.01M1183.9 1131.5h.01M1556.9 551.3h.01M1443.7 583.9h.01M1356.8 428.4h.01M1538.9 397.7h.01M993.9 607.0h.01M1673.0 678.3h.01M1359.2 437.4h.01M1260.6 854.7h.01M1638.6 495.8h.01M1203.8 300.0h.01M1316.0 396.1h.01M1128.0 903.1h.01M1432.4 745.9h.01M983.2 619.4h.01M1060.9 902.5h.01M1019.2 810.2h.01M1572.3 620.7h.01M1216.6 910.6h.01M1575.1 795.4h.01M1416.2 843.7h.01M1539.0 763.5h.01M1644.5 844.8h.01M1205.0 589.4h.01M979.2 624.6h.01M1203.1 1057.8h.01M898.4 680.0h.01M1371.7 431.3h.01M1262.8 703.4h.01M1529.9 690.4h.01M1195.9 1058.9h.01M1173.7 1019.5h.01M1141.7 514.8h.01M1294.1 517.3h.01M1596.9 629.6h.01M1213.6 298.3h.01M1213.7 685.1h.01M1058.0 572.9h.01M1397.8 720.2h.01M1465.8 678.2h.01M1088.0 822.2h.01M1144.6 910.8h.01M1217.4 1113.0h.01M1218.0 1005.6h.01M1517.0 638.6h.01M1648.7 739.8h.01M1633.9 599.4h.01M1293.0 679.1h.01M1562.6 574.4h.01M1197.7 555.6h.01M1607.9 847.2h.01M1263.6 1230.8h.01M1200.2 1158.9h.01M1238.9 1082.0h.01M1416.5 728.2h.01M1234.5 573.2h.01M1351.1 1189.2h.01M1520.6 677.6h.01M1196.1 954.0h.01M1120.0 1121.0h.01M1414.8 1185.2h.01M1192.8 1041.1h.01M925.8 678.5h.01M1528.7 458.7h.01M1147.8 975.2h.01M988.1 823.5h.01M1179.9 434.9h.01M1321.1 731.7h.01M1387.8 416.8h.01M1053.1 844.9h.01M1509.9 675.9h.01M1272.9 407.8h.01M1561.9 689.6h.01M1466.4 321.8h.01M1247.5 998.9h.01M1294.0 911.7h.01M1248.4 690.2h.01M1242.8 1212.2h.01M944.7 655.7h.01M1593.4 686.4h.01M1281.5 649.5h.01M1550.0 817.9h.01M1489.8 839.4h.01M1603.7 745.1h.01M1121.7 644.7h.01M1215.9 575.1h.01M1245.7 705.8h.01M1077.6 708.2h.01M1241.8 294.6h.01M1178.9 890.2h.01M1344.7 1211.6h.01M1140.0 934.2h.01M1526.9 762.0h.01M1343.9 368.0h.01M1227.1 675.2h.01M1456.8 478.6h.01M1079.5 729.6h.01M1285.0 709.2h.01M1366.7 495.5h.01M1595.7 779.0h.01M1535.1 857.0h.01M1087.9 617.6h.01M1067.8 900.2h.01M1514.7 883.4h.01M1414.2 1218.7h.01M1309.4 629.5h.01M964.4 599.0h.01M1125.0 398.9h.01M1349.7 444.9h.01M1265.6 846.8h.01M1605.2 895.2h.01M1588.4 648.6h.01M1072.3 559.0h.01M1259.4 950.4h.01M1384.2 897.3h.01M1095.1 976.1h.01M1050.1 866.4h.01M994.8 741.3h.01M929.2 697.6h.01M992.6 623.5h.01M1171.7 511.9h.01M1439.5 490.2h.01M1408.4 614.7h.01M1239.9 472.5h.01M1536.1 823.6h.01M1294.3 617.1h.01M1140.5 575.8h.01M1120.5 378.2h.01M1393.4 1175.0h.01M1035.5 740.3h.01M1322.6 515.3h.01M1559.3 616.6h.01M1504.6 640.0h.01M1089.1 488.4h.01M1239.8 1053.7h.01M1272.2 969.4h.01M1249.9 623.0h.01M1497.5 463.0h.01M1375.3 491.5h.01M1601.4 721.4h.01M1341.9 260.2h.01M1498.9 834.8h.01M1478.7 1014.7h.01M893.9 632.2h.01M1159.5 1006.1h.01M1546.2 339.3h.01M1397.1 608.0h.01M1583.1 665.7h.01M1071.2 616.1h.01M964.7 604.5h.01M1378.1 477.6h.01M1518.3 329.4h.01M1248.8 1015.8h.01M1493.0 610.2h.01M1347.0 464.9h.01M1531.1 582.2h.01M1213.8 584.1h.01M1636.8 553.1h.01M1668.1 636.1h.01M1203.3 312.9h.01M1527.9 522.7h.01M1111.5 834.2h.01M1660.6 757.1h.01M1693.5 591.6h.01M1583.2 515.5h.01M1023.0 706.7h.01M1328.1 982.6h.01M1504.1 359.0h.01M1335.5 745.8h.01M1371.2 383.6h.01M1395.5 419.5h.01M1290.4 706.9h.01M1324.2 352.4h.01M1617.2 872.8h.01M1252.6 541.0h.01M1619.6 719.4h.01M1153.6 438.4h.01M1161.6 422.4h.01M1238.2 457.4h.01M1644.3 785.7h.01M1397.8 486.0h.01M1345.0 1218.5h.01M1540.0 359.3h.01M1258.0 608.9h.01M1384.8 988.9h.01M1347.7 395.2h.01M1223.6 598.2h.01M1110.6 639.0h.01M936.6 691.5h.01M1519.7 494.2h.01M1312.8 505.9h.01M1559.5 786.9h.01M1088.7 608.9h.01M1517.7 404.7h.01M1233.4 1032.9h.01M1009.0 700.7h.01M1321.2 827.0h.01M1543.2 778.9h.01M1593.6 692.5h.01M1372.8 865.7h.01M1367.0 238.0h.01M1501.6 930.2h.01M992.9 703.2h.01M1402.1 573.5h.01M971.1 790.7h.01M1297.3 940.4h.01M1497.8 815.0h.01M1246.7 527.0h.01M1146.7 580.9h.01M1556.3 650.1h.01M1273.7 313.1h.01M1471.2 1147.8h.01M1228.2 981.3h.01M1153.6 350.1h.01M1313.5 526.9h.01M945.3 645.5h.01M1149.6 1007.5h.01M1637.2 681.8h.01M1554.1 904.5h.01M1316.8 918.4h.01M1167.0 562.2h.01M1632.9 801.9h.01M893.2 621.8h.01M1229.7 339.3h.01M1267.6 542.1h.01M1441.1 1199.0h.01M1428.1 1105.1h.01M1377.8 485.7h.01M1021.8 682.0h.01M1474.8 494.3h.01M1281.5 751.5h.01M1335.6 551.4h.01M954.4 710.2h.01M1489.0 1135.0h.01M1120.8 394.3h.01M1264.3 276.7h.01M1436.1 544.9h.01M1563.0 402.7h.01M1552.0 427.9h.01M967.5 651.6h.01M1349.5 904.3h.01M1569.0 678.7h.01M1656.7 652.7h.01M1136.2 971.3h.01M1276.0 846.3h.01M1199.1 1117.7h.01M1202.6 320.4h.01M1399.6 761.1h.01M1590.8 671.4h.01M1128.1 356.0h.01M1383.7 861.7h.01M1258.2 590.9h.01M1478.2 666.6h.01M1232.1 868.2h.01M1033.2 812.0h.01M1248.4 681.0h.01M1465.3 610.7h.01M1148.5 1001.1h.01M944.0 593.3h.01M1477.6 670.2h.01M1274.6 870.5h.01M1090.6 914.8h.01M1036.7 688.8h.01M1098.5 468.4h.01M1100.3 393.4h.01M1171.6 543.1h.01M1511.8 869.2h.01M1686.1 674.6h.01M1139.8 345.7h.01M1594.9 681.4h.01M1030.8 864.6h.01M908.6 634.4h.01M1040.4 569.9h.01M1352.3 987.7h.01M1266.6 1024.9h.01M1480.5 467.1h.01M1233.9 523.2h.01M1472.5 804.3h.01M1371.7 226.1h.01M1031.5 483.3h.01M1502.2 407.9h.01M1219.2 915.3h.01M1279.9 669.6h.01M1541.8 883.3h.01M1234.9 553.2h.01M1222.2 606.0h.01M1274.6 476.8h.01M1327.1 419.0h.01M1409.2 944.6h.01M1176.8 354.7h.01M1217.9 648.2h.01M1276.0 235.6h.01M1227.1 678.7h.01M943.0 754.7h.01M1582.4 407.6h.01M1455.1 926.0h.01M1626.9 877.1h.01M1066.0 784.5h.01M1020.1 655.6h.01M1086.7 478.4h.01M1226.0 1030.3h.01M884.7 674.6h.01M1096.1 970.3h.01M1347.6 1156.4h.01M1325.7 947.5h.01M1268.1 669.5h.01M1140.0 827.5h.01M1024.2 607.3h.01M1436.3 722.3h.01M1518.9 960.1h.01M1373.1 375.1h.01M1191.5 1069.4h.01M1177.8 974.3h.01M1498.7 482.2h.01M1123.3 463.2h.01M872.2 676.5h.01M1134.2 989.6h.01M1559.4 352.2h.01M1361.4 1194.0h.01M1215.0 1114.9h.01M1662.0 669.9h.01M1007.5 695.1h.01M1506.0 940.1h.01M1359.8 339.1h.01M1083.0 576.8h.01M966.1 794.8h.01M1226.4 546.5h.01M1326.5 559.3h.01M1504.5 568.2h.01M1253.0 337.1h.01M1089.6 900.8h.01M1565.1 726.5h.01M1072.1 702.5h.01M1196.9 340.7h.01M1299.5 818.8h.01M1388.4 1048.5h.01M1325.8 418.0h.01M1549.6 601.9h.01M1477.1 552.5h.01M1533.4 893.5h.01M1280.2 310.1h.01M1403.8 407.3h.01M1270.6 510.5h.01M1373.2 409.2h.01M1400.1 424.7h.01M1060.3 617.6h.01M1267.1 352.8h.01M1550.2 887.6h.01M1678.5 692.6h.01M1128.3 538.4h.01M1113.4 886.6h.01M1341.8 485.4h.01M1627.1 702.6h.01M1633.4 677.4h.01M1594.0 520.4h.01M1434.8 564.8h.01M1333.6 709.9h.01M1068.5 479.8h.01M1269.9 549.5h.01M1192.0 1092.5h.01M1421.5 1197.1h.01M1204.7 510.4h.01M1474.4 812.2h.01M1176.1 1068.9h.01M1055.5 778.0h.01M1252.8 584.1h.01M1530.5 425.3h.01M902.9 630.2h.01M962.3 727.3h.01M1239.4 949.9h.01M1595.1 877.1h.01M1206.9 325.0h.01M901.8 684.8h.01M1259.5 862.8h.01M1292.2 865.8h.01M1601.5 613.2h.01M1505.4 659.9h.01M1275.2 1005.9h.01M905.1 668.4h.01M1594.6 720.0h.01M1225.9 514.4h.01M1024.8 798.6h.01M1210.9 659.1h.01M1197.9 1202.5h.01M1128.3 1005.2h.01M1116.0 599.5h.01M1339.0 1216.3h.01M1370.2 284.9h.01M1631.3 511.3h.01M1401.5 753.3h.01M1038.4 901.8h.01M1588.3 704.3h.01M1559.0 890.2h.01M1534.9 353.0h.01M1151.5 621.8h.01M1406.3 781.2h.01M1432.1 497.3h.01M1363.3 1216.6h.01M1201.8 919.0h.01M1468.7 570.7h.01M957.1 599.3h.01M1386.1 436.9h.01M1183.1 635.9h.01M1289.9 1028.7h.01M1269.2 1213.2h.01M1247.2 1038.1h.01M1210.4 1127.0h.01M1175.4 330.5h.01M1143.3 514.2h.01M1551.5 845.3h.01M1082.8 956.6h.01M1214.6 640.8h.01M1497.6 355.7h.01M1359.1 234.6h.01M1412.6 795.4h.01M1174.1 500.2h.01M1607.8 716.1h.01M1125.6 431.6h.01M1356.6 464.5h.01M1533.1 900.8h.01M1493.2 523.3h.01M1269.7 400.4h.01M1118.8 512.7h.01M1591.5 477.4h.01M1370.3 1007.9h.01M1057.5 550.5h.01M1545.9 939.4h.01M1505.4 890.7h.01M1136.3 573.7h.01M1160.8 469.1h.01M1310.2 525.7h.01M1208.3 1047.8h.01M1294.8 386.8h.01M1192.7 887.6h.01M1612.7 718.3h.01M1411.4 606.3h.01M1033.9 820.6h.01M1285.1 357.8h.01M1106.0 783.6h.01M1030.0 707.3h.01M1579.3 632.7h.01M1523.2 488.4h.01M1183.6 477.9h.01M1154.4 505.6h.01M1055.7 565.0h.01M1250.6 924.8h.01M1103.7 976.7h.01M1354.9 944.2h.01M1258.2 847.2h.01M1067.7 544.7h.01M1634.1 793.4h.01M1268.5 857.6h.01M1615.5 665.4h.01M1175.6 470.7h.01M1231.6 395.3h.01M1201.7 544.5h.01M1453.9 648.3h.01M1585.3 847.9h.01M1270.5 1205.1h.01M1181.1 1221.2h.01M1038.7 480.3h.01M1286.8 272.2h.01M1238.5 1011.0h.01M1020.5 521.2h.01M1321.0 703.5h.01M978.2 779.7h.01M1275.9 689.0h.01M1323.7 367.8h.01M1047.4 610.1h.01M1292.6 528.3h.01M1216.7 684.2h.01M1253.5 983.6h.01M1206.2 560.8h.01M1025.4 819.6h.01M1306.3 744.6h.01M1277.5 739.7h.01M1562.5 567.3h.01M1111.6 411.4h.01M1213.2 936.2h.01M1178.6 828.2h.01M1408.6 1228.5h.01M1399.3 1195.3h.01M1034.6 628.6h.01M1089.0 965.9h.01M1556.2 859.6h.01M1683.2 799.8h.01M988.1 756.1h.01M1287.5 511.6h.01M1408.3 847.7h.01M960.6 759.0h.01M1126.1 455.2h.01M1249.7 1045.2h.01M1632.5 684.6h.01M1163.1 406.0h.01M1214.5 537.4h.01M1146.0 588.3h.01M1033.3 574.2h.01M1394.4 867.4h.01M1402.4 466.3h.01M1323.9 495.5h.01M1168.1 637.7h.01M1173.0 1113.9h.01M1143.1 989.6h.01M1143.8 635.3h.01M1511.5 394.4h.01M1426.2 530.2h.01M1037.9 711.7h.01M1351.3 961.2h.01M1050.5 929.1h.01M963.6 668.3h.01M875.6 644.1h.01M910.4 667.9h.01M1087.2 717.0h.01M912.9 676.5h.01M1028.5 621.3h.01M1133.0 452.3h.01M1252.7 419.5h.01M1298.4 257.5h.01M869.1 659.2h.01M1148.6 994.8h.01M1412.6 467.8h.01M1140.9 1116.2h.01M1352.7 747.4h.01M1545.0 657.0h.01M1003.4 717.4h.01M1517.6 802.3h.01M1163.3 996.8h.01M1296.0 533.3h.01M985.1 709.1h.01M1345.1 594.5h.01M1292.8 694.1h.01M1259.2 508.2h.01M1358.2 548.0h.01M1288.1 461.3h.01M1428.1 551.6h.01M1606.9 514.2h.01M1409.9 565.2h.01M1573.6 396.2h.01M1236.7 933.0h.01M1178.6 1192.5h.01M1349.9 599.0h.01M1585.2 594.4h.01M1082.5 764.9h.01M1181.7 325.6h.01M1279.2 320.1h.01M1236.4 270.1h.01M1515.6 946.9h.01M897.4 663.3h.01M1545.8 582.1h.01M1189.2 477.3h.01M1355.1 711.5h.01M1512.6 357.7h.01M1289.5 415.0h.01M1310.3 352.4h.01M1016.6 629.0h.01M1409.7 549.0h.01M1184.1 918.3h.01M1192.4 458.9h.01M1232.4 1189.1h.01M1099.6 860.4h.01M939.7 736.4h.01M1097.6 418.0h.01M1176.8 1180.5h.01M1551.9 360.5h.01M986.7 634.2h.01M1202.2 357.5h.01M1662.4 782.9h.01M1176.3 920.9h.01M1664.9 679.9h.01M1655.3 752.3h.01M1364.8 1227.6h.01M935.8 584.0h.01M1184.9 584.9h.01M1524.2 387.7h.01M1344.7 562.6h.01M1570.0 823.5h.01M1680.5 790.1h.01M1653.5 584.5h.01M1035.8 716.7h.01M1176.5 525.2h.01M1149.2 481.4h.01M1564.9 583.0h.01M1197.0 941.9h.01M1609.7 886.6h.01M1207.1 1118.3h.01M1124.5 832.2h.01M1665.0 616.0h.01M1278.2 837.1h.01M1383.6 937.0h.01M1557.8 580.4h.01M1405.1 970.0h.01M1371.1 1048.5h.01M1268.6 603.7h.01M1250.0 948.7h.01M1171.6 397.8h.01M1154.3 614.4h.01M1236.4 478.8h.01M1348.4 785.5h.01M1513.3 912.2h.01M1512.5 711.8h.01M1542.9 806.4h.01M1425.6 635.5h.01M1516.8 593.9h.01M1284.5 540.2h.01M1535.3 882.5h.01M1076.7 570.5h.01M1591.6 497.7h.01M939.7 645.1h.01M1555.6 560.3h.01M1308.6 828.1h.01M1560.3 919.8h.01M1523.4 567.2h.01M1593.8 709.6h.01M1694.4 760.1h.01M1618.9 644.4h.01M1499.0 727.4h.01M1214.4 674.3h.01M933.0 661.3h.01M1248.3 945.8h.01M1660.6 573.7h.01M899.2 676.1h.01M1284.6 732.3h.01M1555.3 856.0h.01M1276.1 589.5h.01M1166.4 1029.7h.01M1542.4 889.9h.01M1574.6 683.9h.01M1415.9 273.3h.01M1484.1 451.0h.01M1016.2 662.7h.01M1234.4 1041.3h.01M1202.7 640.9h.01M1488.5 638.6h.01M1298.0 488.8h.01M1604.9 872.6h.01M1374.4 764.6h.01M1175.5 1080.6h.01M1308.0 764.0h.01M1388.0 1211.0h.01M1623.6 572.3h.01M1492.1 390.6h.01M1379.4 692.7h.01M1689.4 702.9h.01M1030.1 638.9h.01M1043.2 830.5h.01M1197.0 1008.5h.01M967.0 716.2h.01M1443.9 561.4h.01M1257.9 394.4h.01M1604.7 608.2h.01M1034.1 827.1h.01M1636.0 878.6h.01M955.9 633.7h.01M1301.3 358.7h.01M1313.9 1184.4h.01M1414.8 506.2h.01M1551.6 586.0h.01M1121.5 928.7h.01M1264.5 974.2h.01M1225.0 409.8h.01M1308.7 303.2h.01M1449.5 1039.8h.01M1027.9 669.8h.01M1270.0 876.4h.01M1512.7 437.5h.01M1064.4 923.5h.01M1264.0 1038.9h.01M1331.8 580.7h.01M1561.7 501.4h.01M1601.9 839.0h.01M1562.5 665.6h.01M1025.4 807.4h.01M1207.9 1095.4h.01M1569.5 772.1h.01M1266.7 478.7h.01M1149.6 625.1h.01M1072.3 937.6h.01M1617.1 774.8h.01M1047.4 835.5h.01M1283.8 730.8h.01M1242.1 1026.9h.01M1248.3 1072.1h.01M1014.1 576.7h.01M990.7 680.7h.01M1176.0 999.0h.01M1381.3 407.8h.01M1585.7 729.6h.01M1287.2 720.3h.01M1585.3 854.0h.01M958.8 715.7h.01M1612.1 476.7h.01M1520.7 949.3h.01M1680.0 651.0h.01M1238.8 336.9h.01M1258.6 411.9h.01M1269.8 360.5h.01M1567.5 671.8h.01M1564.8 621.3h.01M1558.6 633.0h.01M1435.3 535.0h.01M1665.8 527.3h.01M1374.4 1190.0h.01M1202.0 1205.5h.01M1230.2 590.8h.01M1033.9 751.4h.01M1568.2 526.3h.01M968.8 784.4h.01M1124.0 879.1h.01M1493.4 685.6h.01M1202.6 449.9h.01M1224.5 286.8h.01M1557.2 432.3h.01M1412.8 456.3h.01M1537.9 441.3h.01M1183.5 617.7h.01M1102.7 761.3h.01M1199.9 615.9h.01M1147.9 931.8h.01M1510.8 702.8h.01M1104.1 504.6h.01M1019.0 510.1h.01M1298.9 1010.8h.01M1446.6 780.2h.01M1102.6 685.1h.01M1121.9 536.1h.01M1141.9 356.7h.01M1442.7 481.5h.01M1306.5 459.9h.01M1484.7 1001.2h.01M1541.8 909.7h.01M1209.0 1186.7h.01M1095.3 761.0h.01M1247.5 773.9h.01M1323.2 400.2h.01M1428.0 261.0h.01M1329.0 403.1h.01M1250.1 1179.1h.01M1577.6 402.4h.01M1643.3 857.5h.01M1102.4 495.1h.01M1044.3 814.1h.01M1025.2 593.4h.01M977.2 543.4h.01M1182.6 349.3h.01M1132.2 371.5h.01M1342.0 716.5h.01M1591.2 802.3h.01M1135.4 984.4h.01M1385.5 737.9h.01M1244.5 572.7h.01M1696.0 645.7h.01M1227.5 967.5h.01M1365.7 953.6h.01M1360.1 378.0h.01M1086.3 585.6h.01M1361.8 362.8h.01M1383.6 413.1h.01M1650.0 788.3h.01M1259.0 381.1h.01M914.4 701.1h.01M1455.9 1183.8h.01M1350.2 216.2h.01M1081.6 812.1h.01M1176.2 987.4h.01M1258.5 696.1h.01M1166.4 988.6h.01M1596.7 668.2h.01M1001.9 523.3h.01M1113.9 431.4h.01M1066.2 575.0h.01M1639.8 870.6h.01M1392.8 434.5h.01M1261.1 999.9h.01M1523.6 874.6h.01M1239.2 1219.4h.01M1273.0 561.1h.01M1272.5 819.0h.01M1498.1 691.8h.01M1094.6 639.7h.01M1323.4 503.3h.01M1259.2 1019.5h.01M1461.5 597.0h.01M1257.6 668.1h.01M1173.4 822.5h.01M1134.6 563.8h.01M1209.1 405.1h.01M1569.4 592.8h.01M1212.2 886.9h.01M1193.6 854.3h.01M1168.6 604.6h.01M1470.9 770.3h.01M1168.8 518.6h.01M1629.0 854.5h.01M1605.4 502.7h.01M1331.5 1157.0h.01M1521.2 821.9h.01M1183.8 472.0h.01M1179.2 338.1h.01M1302.6 515.1h.01M1377.7 402.7h.01M1329.6 587.9h.01M1498.2 605.4h.01M1419.8 546.0h.01M1150.5 634.7h.01M1168.4 818.2h.01M1359.8 608.6h.01M914.5 682.8h.01M1255.5 958.5h.01M1159.6 1056.7h.01M1598.0 857.2h.01M1449.7 723.5h.01M1090.7 527.0h.01M1306.4 296.5h.01M1433.2 499.6h.01M1237.1 1005.4h.01M1003.2 558.9h.01M1217.8 382.0h.01M1137.3 916.4h.01M906.1 638.5h.01M1291.5 627.2h.01M1296.5 690.4h.01M1165.6 1009.1h.01M1305.3 764.1h.01M1158.4 372.8h.01M1441.2 966.6h.01M1289.2 505.5h.01M1484.7 324.7h.01M1539.8 570.5h.01M898.2 681.6h.01M1236.3 496.8h.01M869.6 640.4h.01M1516.8 759.7h.01M1286.7 1041.5h.01M1280.7 497.0h.01M1568.4 649.8h.01M1516.9 385.2h.01M1252.1 984.1h.01M1617.7 649.4h.01M1574.1 631.8h.01M1420.1 1178.0h.01M1629.9 580.7h.01M1039.8 705.1h.01M1221.9 1139.8h.01M1307.3 565.8h.01M963.0 614.2h.01M1531.2 856.5h.01M1271.7 1024.2h.01M1164.1 573.1h.01M1681.9 683.4h.01M1673.2 642.0h.01M1584.1 811.7h.01M1401.2 446.8h.01M1005.3 751.5h.01M1529.5 488.0h.01M1335.7 1212.8h.01M1522.6 476.3h.01M1026.9 830.6h.01M1098.3 515.3h.01M1101.3 991.2h.01M1377.0 588.9h.01M1636.6 780.9h.01M1214.4 702.3h.01M1468.2 726.3h.01M1313.5 664.0h.01M1491.1 699.7h.01M1209.6 600.9h.01M1495.8 722.0h.01M1152.1 1106.1h.01M1002.5 605.1h.01M1470.6 658.4h.01M1512.3 666.8h.01M907.2 602.6h.01M1344.2 745.8h.01M1251.2 275.3h.01M1577.8 679.8h.01M1159.4 930.2h.01M1088.4 733.5h.01M1430.8 1134.5h.01M1310.0 493.4h.01M995.3 694.9h.01M1320.0 575.8h.01M1193.4 446.8h.01M977.8 686.2h.01M1409.3 923.8h.01M1259.6 615.3h.01M1316.5 726.0h.01M995.6 589.0h.01M1055.5 668.7h.01M1541.1 983.2h.01M1214.9 958.0h.01M1279.0 1162.7h.01M1260.6 986.6h.01M1328.4 439.9h.01M957.9 782.7h.01M1333.4 1075.0h.01M1136.5 1044.7h.01M1335.1 791.9h.01M1107.7 875.3h.01M1395.8 655.0h.01M1636.6 669.3h.01M1043.2 546.7h.01M1135.8 621.5h.01M892.5 678.8h.01M1318.1 863.4h.01M1325.7 616.2h.01M1442.8 933.5h.01M1212.4 1034.0h.01M1658.9 782.2h.01M1212.2 393.6h.01M1536.3 913.7h.01M996.9 663.0h.01M1090.5 725.2h.01M1112.4 422.6h.01M1429.8 745.2h.01M1416.8 256.7h.01M1535.6 810.5h.01M1416.4 1201.0h.01M1007.9 617.0h.01M1535.8 364.4h.01M1340.7 341.3h.01M1216.4 1038.2h.01M926.1 651.4h.01M918.6 656.7h.01M1233.6 1140.7h.01M1254.5 864.7h.01M978.8 617.9h.01M1093.3 395.5h.01M1222.7 1221.7h.01M1355.1 480.2h.01M1235.8 310.4h.01M1171.9 1182.7h.01M1282.8 868.7h.01M916.5 685.0h.01M866.9 669.5h.01M1415.1 287.7h.01M1420.4 621.7h.01M1308.9 720.9h.01M1470.0 695.6h.01M1570.1 576.7h.01M944.8 678.4h.01M1281.0 392.9h.01M1522.4 896.8h.01M1447.0 570.6h.01M1259.1 680.5h.01M1371.1 949.7h.01M961.8 620.1h.01M986.9 715.5h.01M1543.6 626.1h.01M1656.6 513.5h.01M982.4 746.2h.01M1423.0 429.3h.01M1394.0 779.8h.01M1528.2 985.2h.01M1347.6 1065.9h.01M1150.4 1024.8h.01M1269.1 1018.9h.01M1395.5 1121.1h.01M978.3 707.5h.01M1124.6 521.7h.01M1684.3 596.7h.01M1192.5 826.4h.01M1273.9 425.7h.01M951.0 685.3h.01M1304.8 676.2h.01M1091.0 475.6h.01M1354.2 583.8h.01M955.0 691.4h.01M1637.4 523.4h.01M999.3 727.4h.01M1575.2 885.9h.01M1168.9 534.6h.01M1494.5 630.1h.01M1480.1 559.0h.01M965.0 555.5h.01M1091.9 551.1h.01M1130.5 1034.9h.01M1265.8 350.6h.01M1187.5 1004.3h.01M1353.3 862.5h.01M1475.2 323.0h.01M1233.4 404.0h.01M968.8 723.8h.01M1217.3 609.3h.01M1534.8 358.7h.01M1385.1 510.7h.01M914.0 707.4h.01M1610.2 642.4h.01M1591.5 613.3h.01M1401.2 558.7h.01M1229.2 1103.9h.01M1573.8 914.8h.01M1470.1 897.7h.01M1643.5 541.3h.01M1255.7 656.2h.01M1253.6 1031.4h.01M1644.1 836.9h.01M1045.1 576.5h.01M1308.9 848.5h.01M1532.6 549.5h.01M1685.2 613.0h.01M1523.4 853.2h.01M1246.7 392.6h.01M875.1 678.8h.01M1166.0 398.3h.01M959.9 689.0h.01M1208.4 1085.0h.01M1145.1 395.6h.01M1281.8 905.1h.01M1155.6 474.2h.01M1230.4 611.4h.01M1515.7 707.5h.01M1628.8 664.7h.01M1191.4 465.1h.01M1293.8 441.5h.01M1586.2 683.6h.01M1587.5 635.2h.01M1292.7 1069.6h.01M1404.1 943.3h.01M1449.6 271.5h.01M1372.5 899.6h.01M1401.1 692.3h.01M1345.0 708.0h.01M1202.9 948.7h.01M1026.7 812.9h.01M1214.6 1093.4h.01M1461.3 646.0h.01M1059.6 750.4h.01M1321.0 982.8h.01M1533.3 846.8h.01M1637.5 770.1h.01M1320.6 465.0h.01M1181.1 624.9h.01M1261.1 515.5h.01M1175.8 590.2h.01M1240.3 593.7h.01M983.4 641.9h.01M1389.8 755.4h.01M1439.4 761.0h.01M1438.8 778.5h.01M1546.5 925.1h.01M1128.2 443.0h.01M1310.8 533.5h.01M1220.4 1193.4h.01M1492.6 536.1h.01M1521.6 995.3h.01M1099.5 879.3h.01M1243.0 1062.4h.01M1306.3 1111.5h.01M1565.4 792.1h.01M1546.5 890.7h.01M1475.5 313.8h.01M1275.0 1068.2h.01M1440.6 1169.2h.01M1532.9 419.4h.01M1256.6 1141.2h.01M997.5 735.5h.01M1182.7 1054.2h.01M1291.8 321.6h.01M1516.6 681.9h.01M1281.6 1024.7h.01M1055.3 557.9h.01M1505.8 863.4h.01M1242.8 1210.0h.01M1394.0 449.3h.01M1133.9 586.8h.01M1381.7 754.2h.01M1460.3 484.8h.01M1533.9 899.4h.01M1163.2 546.1h.01M1516.9 538.9h.01M1070.6 562.2h.01M1181.1 453.5h.01M1490.4 351.9h.01M1162.4 450.2h.01M1362.6 484.8h.01M1168.4 743.8h.01M1276.5 306.9h.01M1547.4 646.1h.01M996.5 630.6h.01M1254.6 593.0h.01M1646.7 624.2h.01M1359.4 411.9h.01M1305.5 488.1h.01M1557.8 445.7h.01M1345.3 555.4h.01M1144.0 536.1h.01M1555.4 869.3h.01M1499.8 645.2h.01M1469.4 476.3h.01M1344.3 680.1h.01M1250.4 439.8h.01M1281.4 472.1h.01M1458.6 1176.9h.01M1600.3 701.4h.01M1694.9 768.1h.01M1012.5 510.5h.01M1176.8 543.4h.01M1497.3 570.9h.01M1360.9 483.1h.01M1242.2 465.8h.01M1129.0 620.1h.01M1070.5 445.3h.01M1329.0 940.5h.01M1405.8 421.5h.01M1209.0 592.2h.01M1224.5 624.3h.01M1649.5 550.0h.01M1386.4 369.5h.01M983.2 687.5h.01M1378.9 850.7h.01M1423.9 1176.6h.01M1074.7 888.4h.01M1270.1 851.2h.01M1691.2 714.9h.01M1295.1 995.4h.01M1271.2 1077.7h.01M1554.3 664.6h.01M1456.8 1107.6h.01M1486.7 547.1h.01M1041.2 749.8h.01M1609.5 664.7h.01M947.1 715.5h.01M1173.0 582.4h.01M1110.5 519.3h.01M1182.0 459.4h.01M1395.8 967.9h.01M1594.4 708.5h.01M1277.1 332.8h.01M945.4 708.5h.01M1615.5 906.4h.01M1616.4 604.6h.01M1434.1 1170.8h.01M1141.4 900.0h.01M1698.4 680.4h.01M917.4 687.0h.01M1330.7 351.1h.01M1644.2 598.7h.01M1004.1 811.3h.01M1406.8 846.3h.01M1569.8 554.5h.01M1620.3 815.2h.01M1015.3 603.8h.01M1189.0 425.4h.01M1647.5 771.3h.01M1077.2 720.3h.01M1133.5 496.1h.01M1677.6 580.3h.01M1114.6 480.1h.01M1161.5 537.2h.01M1426.6 951.1h.01M1010.8 750.7h.01M1287.2 333.9h.01M1201.2 1070.6h.01M1156.7 1009.3h.01M1243.1 694.6h.01M1327.3 345.8h.01M1176.1 424.5h.01M1208.9 575.2h.01M1038.6 721.9h.01M1268.9 431.4h.01M1503.9 689.5h.01M1549.6 921.5h.01M1199.5 536.0h.01M1193.1 332.1h.01M1144.1 443.4h.01M1572.8 683.2h.01M1015.3 840.3h.01M1560.6 461.9h.01M1492.8 473.6h.01M1510.7 640.5h.01M1150.3 622.9h.01M1193.5 638.1h.01M1640.3 799.3h.01M1672.9 541.7h.01M1535.3 909.9h.01M1207.0 971.3h.01M1405.2 550.6h.01M1221.5 711.9h.01M1204.4 1134.0h.01M1295.5 547.4h.01M1551.9 538.3h.01M1552.0 524.0h.01M1036.1 719.5h.01M1227.4 1061.6h.01M1450.5 523.7h.01M1186.7 331.4h.01M969.6 542.0h.01M1532.3 705.6h.01M1503.3 1019.5h.01M961.2 595.0h.01M1363.8 719.8h.01M1176.6 390.6h.01M1386.2 1217.4h.01M1401.9 767.9h.01M1129.5 643.8h.01M1561.0 870.7h.01M1597.1 605.4h.01M1490.8 663.2h.01M1321.0 876.8h.01M1179.2 1224.1h.01M1209.1 448.6h.01M985.9 698.3h.01M1512.5 862.3h.01M1392.8 797.0h.01M1379.1 924.5h.01M1078.1 542.5h.01M1251.1 870.5h.01M1266.3 417.0h.01M1199.2 556.2h.01M1302.7 343.5h.01M1575.2 939.8h.01M1247.3 820.4h.01M1000.8 647.5h.01M1234.5 300.5h.01M1530.9 434.9h.01M1174.6 507.7h.01M1119.6 385.6h.01M1098.3 645.6h.01M1038.4 509.9h.01M1265.8 585.2h.01M1019.6 660.8h.01M1169.4 551.2h.01M996.1 595.5h.01M1152.0 512.3h.01M1298.3 427.2h.01M1654.6 824.0h.01M1318.1 709.2h.01M1325.0 1190.3h.01M1396.3 925.6h.01M1080.9 618.8h.01M1031.9 627.8h.01M1365.9 856.3h.01M960.8 725.1h.01M1148.4 416.6h.01M1239.1 850.6h.01M1236.2 343.9h.01M1501.8 921.2h.01M1156.8 640.8h.01M966.2 765.9h.01M1548.6 618.4h.01M1485.5 648.8h.01M1347.3 860.4h.01M1526.7 821.8h.01M1487.5 681.0h.01M1269.6 746.4h.01M1399.7 552.6h.01M1641.3 563.6h.01M1069.4 850.9h.01M1527.0 620.6h.01M1442.5 889.5h.01M1174.8 630.9h.01M952.3 698.3h.01M947.0 651.1h.01M1005.7 598.2h.01M1167.8 908.0h.01M1200.2 529.9h.01M977.5 572.0h.01M1228.5 465.6h.01M1050.7 718.0h.01M1222.1 538.5h.01M1086.1 860.6h.01M980.7 569.6h.01M1507.3 336.1h.01M1355.6 359.1h.01M1439.9 994.8h.01M1252.0 361.8h.01M1648.8 805.7h.01M982.7 827.8h.01M1477.1 805.5h.01M1381.2 1017.5h.01M1172.3 965.0h.01M1205.8 662.8h.01M1229.4 328.6h.01M1468.2 503.2h.01M1100.2 844.5h.01M1326.3 462.3h.01M1054.5 726.2h.01M1138.7 475.4h.01M1249.3 1027.7h.01M1582.1 929.4h.01M1110.7 980.7h.01M1059.7 789.9h.01M1586.2 585.5h.01M1264.6 771.2h.01M1531.2 682.6h.01M1500.5 536.0h.01M1301.4 841.2h.01M1681.3 633.8h.01M1261.2 847.9h.01M1289.4 846.4h.01M1233.7 1036.9h.01M965.2 688.7h.01M1200.9 1045.0h.01M1523.9 423.8h.01M1179.7 425.3h.01M1296.5 925.0h.01M1247.2 646.7h.01M1181.8 1179.7h.01M991.5 640.8h.01M1202.0 585.3h.01M1041.3 542.5h.01M1366.5 463.8h.01M1582.6 630.5h.01M1201.3 1140.9h.01M973.4 566.2h.01M1568.9 864.7h.01M1599.0 552.7h.01M1590.0 640.1h.01M1520.4 685.0h.01M1460.0 774.2h.01M1045.7 484.7h.01M1359.6 432.6h.01M1527.0 505.6h.01M1184.7 498.7h.01M1566.6 749.6h.01M1206.4 994.5h.01M1487.8 497.0h.01M935.6 716.6h.01M1472.0 820.0h.01M1339.2 708.1h.01M1250.5 500.0h.01M1278.2 544.5h.01M1669.3 691.9h.01M1052.3 644.1h.01M1574.3 554.5h.01M1066.9 513.0h.01M1600.0 686.3h.01M1060.4 609.8h.01M898.4 679.7h.01M1050.8 789.9h.01M1473.0 645.7h.01M1222.2 1014.3h.01M965.5 717.1h.01M983.2 731.4h.01M1027.2 756.8h.01M1153.8 1020.2h.01M1267.7 870.0h.01M988.6 600.0h.01M1344.2 733.6h.01M1434.3 548.1h.01M1650.4 702.6h.01M1006.8 685.5h.01M1229.3 666.0h.01M1388.5 828.8h.01M1478.5 1129.4h.01M1600.1 868.4h.01M1192.4 1032.4h.01M1482.5 490.9h.01M1405.2 1155.2h.01M1250.5 1242.6h.01M1155.5 466.0h.01M1097.7 571.9h.01M1589.1 640.8h.01M1051.2 602.9h.01M985.3 674.9h.01M1338.6 1235.0h.01M874.0 674.6h.01M1368.7 856.0h.01M1371.7 448.2h.01M950.5 615.0h.01M1188.2 297.9h.01M1477.6 689.2h.01M1115.7 955.6h.01M1534.9 932.4h.01M1200.0 1095.5h.01M1360.4 1198.9h.01M1201.9 1032.3h.01M896.5 707.5h.01M1279.4 661.1h.01M1196.7 1040.4h.01M1117.7 440.1h.01M1031.5 609.1h.01M1192.2 516.5h.01M884.5 696.1h.01M1290.2 230.7h.01M1058.0 813.1h.01M1259.0 469.2h.01M1231.3 1112.0h.01M1231.7 909.9h.01M977.0 649.6h.01M1394.7 398.0h.01M1391.2 1210.2h.01M970.0 625.0h.01M1256.4 545.3h.01M1413.5 461.0h.01M1429.2 1078.6h.01M1406.5 912.5h.01M1061.1 459.5h.01M1475.7 469.9h.01M1290.6 770.8h.01M1611.1 591.1h.01M1525.7 631.6h.01M1558.0 410.6h.01M1260.1 459.2h.01M1421.7 1117.7h.01M1170.1 308.4h.01M1546.0 371.8h.01M1037.2 473.4h.01M1523.4 758.5h.01M1353.2 454.6h.01M1556.3 658.9h.01M1355.2 839.5h.01M1557.0 842.7h.01M1533.9 939.4h.01M1397.1 1007.0h.01M1288.5 252.8h.01M1138.8 524.6h.01M1299.2 748.3h.01M1620.7 712.8h.01M1145.7 566.1h.01M1291.6 1003.4h.01M1160.7 805.4h.01M1456.6 587.5h.01M1624.8 777.0h.01M1397.3 596.4h.01M1256.2 677.1h.01M1481.2 1160.2h.01M896.6 683.7h.01M1301.5 714.6h.01M1249.1 410.5h.01M1190.7 548.7h.01M1071.2 672.0h.01M1450.2 735.0h.01M1181.0 498.8h.01M1185.1 303.2h.01M1452.9 484.5h.01M1431.9 1184.0h.01M1198.7 515.6h.01M1206.4 1130.7h.01M1121.3 443.1h.01M1273.6 719.3h.01M1505.3 630.3h.01M1028.0 503.7h.01M1389.8 1015.7h.01M1406.1 726.3h.01M1510.0 956.8h.01M1677.1 731.5h.01M1388.2 431.1h.01M1508.0 349.8h.01M1289.6 510.0h.01M1609.4 839.5h.01M1370.8 1165.8h.01M1302.7 708.0h.01M1574.3 607.5h.01M1487.2 679.0h.01M1708.5 616.2h.01M1277.1 438.2h.01M958.7 595.1h.01M1132.2 949.4h.01M1006.7 639.1h.01M1525.7 403.9h.01M1118.2 554.4h.01M1506.7 851.7h.01M1308.8 657.7h.01M1182.7 1143.8h.01M1575.1 878.6h.01M1572.9 757.0h.01M1191.1 399.6h.01M1373.0 396.4h.01M1162.8 1195.1h.01M1205.7 636.7h.01M1053.0 658.7h.01M944.4 721.5h.01M1300.8 488.1h.01M1511.9 731.6h.01M1604.6 923.8h.01M1142.8 494.0h.01M1256.2 285.9h.01M1342.0 855.6h.01M1594.6 661.8h.01M1470.0 426.2h.01M1292.3 305.1h.01M981.4 599.7h.01M944.9 679.4h.01M1250.2 1212.7h.01M1388.8 590.3h.01M1598.6 593.6h.01M1227.5 1181.7h.01M938.8 674.0h.01M1132.7 529.9h.01M1191.3 961.0h.01M1050.0 917.8h.01M1577.7 641.2h.01M1207.8 1139.5h.01M1111.2 474.1h.01M1602.5 565.8h.01M1083.4 593.3h.01M994.0 587.3h.01M1064.5 776.6h.01M1497.9 621.0h.01M992.1 805.8h.01M1361.9 448.9h.01M1220.8 839.5h.01M1279.6 1214.7h.01M1316.8 684.1h.01M1324.5 911.0h.01M1199.9 540.2h.01M1325.3 335.4h.01M1531.4 390.9h.01M1327.3 986.7h.01M1534.9 596.5h.01M1332.8 359.2h.01M1007.6 678.0h.01M933.4 699.8h.01M1046.4 500.6h.01M1257.4 678.4h.01M1097.0 455.6h.01M1181.5 356.4h.01M1315.6 278.9h.01M941.1 621.9h.01M1133.1 789.5h.01M1325.6 959.5h.01M1539.0 653.0h.01M1572.6 562.8h.01M1502.2 579.9h.01M1418.4 808.5h.01M1617.9 546.6h.01M1631.8 744.6h.01M1211.1 729.8h.01M1152.5 1000.4h.01M1405.7 449.8h.01M956.6 564.4h.01M1663.3 836.9h.01M1381.7 335.5h.01M1092.1 615.1h.01M1305.9 397.0h.01M1528.4 831.1h.01M1374.8 375.1h.01M1479.1 524.9h.01M1295.3 754.4h.01M1226.9 453.8h.01M1578.5 698.8h.01M1608.9 628.1h.01M900.7 677.0h.01M1210.4 511.3h.01M1447.6 1085.3h.01M1665.4 571.6h.01M975.0 587.5h.01M1340.0 1225.6h.01M1095.0 558.2h.01M1289.9 748.5h.01M1283.3 521.5h.01M1205.8 551.4h.01M1662.1 788.4h.01M1190.0 630.0h.01M1504.9 1108.1h.01M1126.0 777.7h.01M980.8 794.2h.01M1265.9 380.6h.01M1304.5 667.4h.01M1546.0 824.6h.01M1562.1 644.6h.01M1281.3 335.1h.01M1541.3 820.1h.01M1274.5 529.9h.01M1619.7 626.4h.01M1587.1 684.0h.01M1601.9 715.6h.01M1633.3 847.7h.01M1275.4 1036.6h.01M1530.4 383.0h.01M1320.2 744.2h.01M907.5 637.9h.01M1247.5 267.2h.01M1646.8 834.7h.01M1324.8 716.7h.01M1271.3 708.6h.01M1228.9 539.1h.01M1327.5 427.0h.01M1122.8 650.3h.01M900.5 678.6h.01M1234.8 980.4h.01M1578.0 549.9h.01M1160.4 1131.8h.01M1569.2 781.2h.01M1006.5 626.9h.01M1503.5 368.2h.01M1512.8 490.8h.01M953.5 645.6h.01M1320.1 338.2h.01M1617.2 659.0h.01M1123.1 574.8h.01M1530.5 939.5h.01M1261.8 483.0h.01M953.9 601.1h.01M1278.7 485.3h.01M1389.7 400.6h.01M1594.2 809.0h.01M1243.3 621.7h.01M1436.6 1185.0h.01M1013.8 798.2h.01M1648.9 578.6h.01M1212.4 479.7h.01M1334.7 832.1h.01M1535.5 644.3h.01M1532.8 851.6h.01M1419.9 928.9h.01M1251.9 963.7h.01M1358.9 980.0h.01M1282.5 433.3h.01M1015.6 811.5h.01M1667.3 615.0h.01M1111.6 532.0h.01M1275.1 1217.5h.01M1626.1 448.5h.01M980.5 598.2h.01M1607.3 676.0h.01M1356.5 350.0h.01M1345.9 389.6h.01M1614.0 865.2h.01M1326.7 765.4h.01M943.1 578.7h.01M1308.7 232.8h.01M1286.7 641.7h.01M1265.1 611.9h.01M1178.2 1169.1h.01M1250.1 609.3h.01M1347.7 449.4h.01M1025.5 713.0h.01M1259.1 948.8h.01M1322.6 922.1h.01M977.0 670.1h.01M1017.1 811.1h.01M1036.6 900.2h.01M1607.2 580.4h.01M1266.4 1174.0h.01M1043.5 795.1h.01M963.0 703.8h.01M1124.7 581.9h.01M1213.8 808.5h.01M1081.2 619.7h.01M1318.2 416.9h.01M969.4 678.2h.01M1132.9 468.6h.01M1185.5 1225.6h.01M1524.2 557.5h.01M1218.7 457.0h.01M1495.4 495.5h.01M1538.3 843.2h.01M1637.7 571.3h.01M1123.6 918.3h.01M966.6 735.3h.01M1082.8 448.3h.01M1543.4 720.3h.01M1279.0 812.8h.01M1652.4 679.6h.01M1274.6 498.1h.01M977.7 576.7h.01M1317.2 707.0h.01M1631.2 885.5h.01M1233.7 928.6h.01M1551.9 974.8h.01M1347.9 484.0h.01M1262.7 915.1h.01M1593.6 729.1h.01M1198.2 420.6h.01M1686.9 722.1h.01M1513.5 919.9h.01M1530.4 591.2h.01M1499.8 349.5h.01M1238.7 582.8h.01M921.0 626.1h.01M1300.6 684.0h.01M1300.7 393.5h.01M1398.5 789.9h.01M1416.9 531.4h.01M1614.6 677.2h.01M1491.2 812.6h.01M1635.0 723.8h.01M1550.7 634.2h.01M1160.4 900.8h.01M1221.2 1164.4h.01M1070.6 454.9h.01M905.6 647.8h.01M1197.4 1187.5h.01M1699.1 637.6h.01M1253.9 1165.6h.01M1456.4 611.0h.01M1645.8 766.8h.01M1392.7 564.6h.01M1296.8 795.0h.01M1211.9 627.4h.01M1674.3 533.5h.01M1088.6 595.8h.01M1049.1 705.2h.01M1334.4 229.4h.01M1488.4 724.9h.01M1200.4 466.4h.01M1357.1 996.2h.01M918.7 747.7h.01M1357.6 1211.1h.01M1235.5 685.5h.01M1507.2 590.6h.01M1303.7 377.5h.01M1022.3 704.9h.01M990.8 841.5h.01M1438.4 261.4h.01M1312.3 909.8h.01M1610.2 685.4h.01M1307.1 942.1h.01M1205.0 723.5h.01M1285.7 377.7h.01M1241.1 303.4h.01M1230.9 1018.7h.01M1350.4 1004.5h.01M1567.5 571.7h.01M958.1 732.8h.01M1385.2 1167.1h.01M1575.3 859.4h.01M1206.6 812.6h.01M1655.1 757.5h.01M1162.8 1028.7h.01M1412.1 968.2h.01M1430.3 1160.0h.01M1088.7 444.0h.01M1192.4 509.7h.01M1503.3 668.4h.01M1165.9 581.0h.01M1524.0 923.7h.01M1026.1 858.8h.01M1437.5 843.1h.01M1432.3 420.3h.01M1584.7 877.4h.01M970.0 771.9h.01M1076.9 928.2h.01M1529.0 1045.1h.01M1312.9 485.6h.01M1443.3 667.8h.01M958.6 581.7h.01M1230.1 439.3h.01M1141.5 549.4h.01M1345.4 966.0h.01M1671.2 653.0h.01M1149.7 609.9h.01M1673.2 615.7h.01M1159.1 482.3h.01M1406.9 589.0h.01M1647.0 818.2h.01M1500.1 529.8h.01M1177.5 1026.7h.01M1534.4 404.0h.01M1190.1 573.0h.01M1401.8 779.2h.01M1218.1 692.3h.01M1406.2 438.1h.01M1635.3 740.3h.01M1629.1 784.0h.01M1553.4 592.1h.01M1531.8 371.4h.01M1125.1 423.4h.01M1396.5 540.5h.01M1374.2 1033.3h.01M1166.8 1201.5h.01M1303.2 336.6h.01M1310.5 865.5h.01M1570.4 742.1h.01M1523.4 542.2h.01M1045.7 671.9h.01M1561.1 682.0h.01M940.5 749.0h.01M974.9 701.3h.01M1320.0 525.9h.01M1399.5 850.2h.01M1268.4 1049.4h.01M1299.2 450.6h.01M1227.3 516.2h.01M1457.5 523.5h.01M1194.9 979.7h.01M1517.2 590.1h.01M1654.1 489.7h.01M1182.2 594.9h.01M942.5 680.7h.01M1472.2 557.3h.01M1479.7 301.4h.01M1586.9 561.3h.01M1455.6 1005.1h.01M1132.5 402.6h.01M1234.6 392.8h.01M1517.8 347.6h.01M966.5 640.9h.01M1563.1 913.6h.01M1074.1 893.6h.01M1368.9 736.0h.01M1201.5 696.4h.01M1189.2 1062.7h.01M1160.5 1072.2h.01M1272.7 1072.9h.01M1265.0 467.4h.01M1406.5 1136.3h.01M1647.0 590.1h.01M1269.4 471.3h.01M954.3 639.6h.01M1514.4 764.0h.01M1564.2 423.6h.01M1318.4 445.9h.01M1245.8 653.1h.01M1686.0 653.2h.01M1211.3 917.2h.01M1271.6 334.1h.01M1035.6 672.8h.01M1209.6 356.0h.01M1643.6 838.1h.01M1212.5 917.5h.01M1611.0 682.7h.01M1371.9 514.9h.01M1119.5 981.8h.01M1220.8 769.9h.01M1348.7 835.5h.01M1487.7 563.3h.01M1552.5 655.4h.01M1384.0 825.6h.01M1494.7 541.6h.01M1655.0 623.4h.01M1645.9 668.0h.01M1275.4 478.2h.01M1065.6 471.8h.01M1529.1 894.3h.01M1572.1 682.2h.01M1663.4 687.3h.01M1163.8 1199.0h.01M1194.6 297.5h.01M1262.3 1070.2h.01M1134.9 545.4h.01M1156.0 836.6h.01M1497.8 693.1h.01M1119.4 628.7h.01M1318.2 829.4h.01M1483.2 600.5h.01M1047.3 584.6h.01M1305.3 855.3h.01M1298.4 328.0h.01M1246.4 955.8h.01M1264.0 1181.9h.01M1354.6 1226.4h.01M1124.3 877.6h.01M1189.2 1055.4h.01M982.4 724.8h.01M1556.7 711.8h.01M1110.6 445.8h.01M1670.1 638.0h.01M1210.8 312.1h.01M1145.5 870.0h.01M1309.0 1027.4h.01M1302.2 562.6h.01M1273.1 575.1h.01M1277.5 932.9h.01M1289.5 406.7h.01M1443.2 718.1h.01M1573.4 400.9h.01M1606.7 547.5h.01M1077.6 830.3h.01M1262.3 545.5h.01M1241.1 928.8h.01M1554.1 613.3h.01M1122.1 352.7h.01M1015.1 534.7h.01M1336.0 931.1h.01M1326.1 410.2h.01M1417.3 605.0h.01M1394.7 836.4h.01M1555.5 487.9h.01M1018.9 776.3h.01M1240.5 974.3h.01M1552.5 962.4h.01M1670.8 698.6h.01M1282.0 863.4h.01M898.7 695.6h.01M1080.0 952.4h.01M1028.0 717.4h.01M1416.0 569.3h.01M1316.9 625.9h.01M1586.2 628.6h.01M1226.5 1152.5h.01M926.3 736.8h.01M1376.4 1018.5h.01M1356.4 821.4h.01M1270.0 590.4h.01M1034.4 684.3h.01M1617.6 681.5h.01M949.1 685.3h.01M1232.7 991.9h.01M1530.0 817.9h.01M1367.9 1166.3h.01M1293.6 1050.0h.01M1333.8 396.6h.01M1220.4 620.7h.01M1294.0 494.4h.01M1289.3 925.1h.01M1054.0 888.6h.01M1251.1 306.6h.01M1380.6 395.3h.01M1379.4 360.2h.01M1309.3 713.0h.01M1189.8 474.9h.01M1108.5 845.3h.01M1146.3 460.8h.01M1645.7 660.5h.01M1339.0 495.5h.01M1224.3 760.0h.01M1256.2 1048.4h.01M1137.3 355.2h.01M1170.8 979.1h.01M1155.1 426.4h.01M1274.3 949.6h.01M1471.5 734.9h.01M1487.4 670.6h.01M1206.1 1155.4h.01M1485.2 1109.7h.01M1134.6 420.4h.01M971.0 797.0h.01M1077.8 492.5h.01M1537.2 478.6h.01M1241.4 511.8h.01M1472.7 577.4h.01M1607.1 691.5h.01M1537.4 888.7h.01M1487.7 876.7h.01M1443.8 593.8h.01M1049.9 562.1h.01M1590.5 605.1h.01M919.7 698.0h.01M1670.9 520.7h.01M1439.0 1130.9h.01M1230.4 919.3h.01M1269.8 623.4h.01M1397.2 505.0h.01M1014.9 706.9h.01M1503.6 445.9h.01M1580.7 651.2h.01M1568.0 655.2h.01M1258.0 601.0h.01M940.6 729.9h.01M977.2 642.5h.01M1255.7 272.3h.01M1186.9 481.6h.01M1514.1 689.4h.01M1310.0 403.3h.01M1470.3 630.6h.01M1137.1 632.4h.01M1248.4 317.8h.01M1542.6 969.5h.01M1513.8 973.4h.01M934.6 763.5h.01M1564.6 884.6h.01M1318.2 306.7h.01M1566.7 674.1h.01M1565.0 581.2h.01M1635.5 741.0h.01M1621.8 893.2h.01M990.2 734.9h.01M1303.8 319.4h.01M1347.1 820.9h.01M945.0 691.5h.01M1403.5 539.0h.01M1223.4 646.0h.01M1231.5 1006.0h.01M1503.5 972.5h.01M1253.6 428.0h.01M1587.5 694.2h.01M1353.2 417.1h.01M1297.5 1195.5h.01M1531.4 514.3h.01M961.7 568.1h.01M1176.5 321.3h.01M1621.0 731.0h.01M1372.9 598.1h.01M1628.3 803.7h.01M1217.9 667.1h.01M1372.8 540.8h.01M898.2 664.3h.01M1231.3 472.6h.01M968.3 758.9h.01M1493.5 671.4h.01M1150.9 940.0h.01M1573.9 518.3h.01M1253.9 694.1h.01M1188.1 569.8h.01M1623.4 696.2h.01M1177.1 534.4h.01M1568.6 901.3h.01M1128.6 919.0h.01M1340.0 785.1h.01M1057.6 897.9h.01M1100.9 520.8h.01M1704.7 620.4h.01M1155.1 627.9h.01M1352.6 438.8h.01M1555.9 663.7h.01M1397.9 1226.6h.01M1341.9 508.4h.01M935.1 621.7h.01M1017.7 661.0h.01M1232.1 998.6h.01M993.4 758.7h.01M1076.5 846.7h.01M1118.5 401.4h.01M1201.3 400.0h.01M1298.2 669.5h.01M1052.8 911.4h.01M1284.8 697.3h.01M1061.7 505.5h.01M1310.3 384.2h.01M910.7 613.9h.01M1187.8 541.1h.01M1526.2 773.8h.01M1352.0 589.3h.01M1532.1 483.9h.01M1108.2 874.5h.01M1253.8 556.3h.01M1241.3 1041.9h.01M1094.2 944.2h.01M1270.3 630.5h.01M998.5 748.7h.01M1406.7 491.6h.01M886.7 667.7h.01M342.9 482.8h.01M341.6 484.4h.01M345.6 438.7h.01M338.9 492.6h.01M335.7 459.9h.01M343.3 480.4h.01M340.3 488.6h.01M332.0 474.5h.01M333.4 451.8h.01M347.0 476.9h.01M349.4 428.6h.01M339.9 506.2h.01M336.5 444.9h.01M339.5 433.1h.01M333.8 463.0h.01M336.4 511.7h.01M338.5 503.1h.01M338.7 480.4h.01M340.7 433.9h.01M338.6 507.5h.01M343.2 529.1h.01M345.1 525.2h.01M338.9 516.4h.01M350.7 431.4h.01M343.8 526.2h.01M342.6 441.1h.01M338.0 508.7h.01M349.4 528.7h.01M340.0 480.0h.01M349.5 429.9h.01M331.4 439.3h.01M340.9 478.7h.01M338.5 458.7h.01M335.6 452.8h.01M334.3 474.4h.01M341.0 518.2h.01M339.4 510.3h.01M335.9 454.4h.01M336.8 518.0h.01M336.3 493.0h.01M340.4 521.3h.01M342.1 520.3h.01M339.1 479.8h.01M345.1 525.9h.01M346.5 436.0h.01M341.6 509.1h.01M336.5 495.0h.01M343.8 527.1h.01M335.0 489.3h.01M330.0 488.6h.01M342.5 445.9h.01M338.7 452.5h.01M342.0 492.6h.01M340.6 502.0h.01M340.2 437.5h.01M337.2 449.9h.01M342.4 438.5h.01M335.3 452.9h.01M339.1 474.1h.01M335.8 498.3h.01M341.6 474.0h.01M341.6 520.2h.01M343.4 428.0h.01M337.7 513.3h.01M337.0 496.6h.01M335.2 503.7h.01M341.3 517.3h.01M341.5 485.6h.01M344.3 523.9h.01M334.1 448.3h.01M332.0 508.0h.01M342.3 531.7h.01M339.0 495.3h.01M340.0 485.2h.01M338.6 474.2h.01M335.1 488.7h.01M346.0 440.6h.01M340.4 487.3h.01M344.7 433.7h.01M340.1 448.7h.01M342.4 432.0h.01M339.5 467.2h.01M339.3 448.6h.01M335.1 503.6h.01M350.1 435.5h.01M354.3 516.0h.01M361.8 506.2h.01M358.8 499.4h.01M357.6 498.2h.01M359.8 526.1h.01M361.4 505.9h.01M351.9 483.7h.01M352.9 480.8h.01M355.2 522.4h.01M352.7 475.5h.01M353.7 471.6h.01M353.9 461.8h.01M355.2 476.4h.01M365.6 509.9h.01M352.4 488.5h.01M351.4 482.0h.01M347.9 485.8h.01M356.2 511.1h.01M355.4 522.9h.01M356.8 468.4h.01M352.2 475.4h.01M355.3 499.4h.01M360.8 525.5h.01M354.4 520.0h.01M357.9 506.8h.01M354.2 486.6h.01M354.3 498.1h.01M349.3 473.4h.01M352.4 479.7h.01M364.4 521.5h.01M359.3 509.7h.01M354.5 481.1h.01M354.8 526.1h.01M358.3 461.2h.01M353.8 467.7h.01M350.3 468.3h.01M356.8 474.5h.01M357.6 521.4h.01M356.7 547.8h.01M365.5 542.7h.01M354.5 607.2h.01M367.6 573.2h.01M371.5 580.1h.01M364.8 561.3h.01M364.9 562.2h.01M372.3 583.8h.01M364.9 562.8h.01M370.9 575.5h.01M368.3 577.8h.01M367.8 564.4h.01M366.3 587.5h.01M368.9 570.0h.01M370.4 584.9h.01M365.3 570.0h.01M368.8 578.2h.01M369.1 586.9h.01M367.1 577.8h.01M372.7 575.3h.01M371.3 584.4h.01M366.4 577.4h.01M369.6 577.9h.01M365.4 563.8h.01M370.6 581.4h.01M367.5 569.2h.01M368.1 575.7h.01M379.1 610.6h.01M366.0 596.0h.01M370.3 592.3h.01M369.4 594.5h.01M379.9 611.8h.01M365.3 591.8h.01M369.2 595.7h.01M365.6 593.3h.01M378.9 606.7h.01M367.8 588.9h.01M375.4 599.9h.01M363.2 602.2h.01M365.2 590.5h.01M371.3 602.8h.01M373.9 606.9h.01M362.1 605.2h.01M376.1 602.2h.01M364.4 597.3h.01M369.4 603.6h.01M362.6 600.0h.01M356.1 606.5h.01M364.0 602.0h.01M374.5 608.4h.01M370.0 603.1h.01M362.5 598.1h.01M371.5 599.1h.01M367.0 591.8h.01M366.4 609.5h.01M377.2 600.0h.01M366.3 592.3h.01M370.7 589.0h.01M363.8 592.8h.01M374.8 601.9h.01M373.7 596.8h.01M360.9 602.9h.01M370.7 598.6h.01M372.8 603.9h.01M364.3 589.5h.01M358.1 605.4h.01M367.5 588.4h.01M366.2 602.2h.01M368.8 597.4h.01M369.6 589.3h.01M372.9 596.0h.01M364.9 610.9h.01M367.7 595.0h.01M756.2 814.7h.01M795.2 852.2h.01M786.5 843.5h.01M750.7 809.8h.01M737.3 805.5h.01M780.3 835.3h.01M748.6 821.1h.01M759.6 838.1h.01M732.3 800.4h.01M744.1 812.3h.01M743.8 807.4h.01M750.2 830.7h.01M783.6 831.6h.01M800.6 859.2h.01M740.9 819.8h.01M758.4 833.3h.01M769.4 844.1h.01M738.7 812.3h.01M738.0 801.2h.01M804.8 855.2h.01M748.8 802.1h.01M753.8 831.3h.01M774.7 835.1h.01M749.3 814.0h.01M805.5 864.8h.01M788.3 847.3h.01M794.7 845.5h.01M750.4 837.8h.01M742.8 831.0h.01M751.9 804.4h.01M787.6 834.6h.01M766.5 833.3h.01M788.3 853.4h.01M769.9 837.2h.01M760.2 842.5h.01M792.5 857.1h.01M801.0 851.3h.01M745.8 817.8h.01M783.2 839.1h.01M767.4 840.9h.01M763.7 840.9h.01M795.3 841.0h.01M789.8 841.6h.01M790.9 850.8h.01M734.5 803.6h.01M746.3 826.0h.01M756.3 840.3h.01M726.5 799.7h.01M755.2 825.3h.01M801.1 844.1h.01M769.6 830.1h.01M732.2 863.7h.01M736.7 871.6h.01M727.0 837.9h.01M722.7 848.6h.01M735.8 855.1h.01M719.7 852.9h.01M739.7 879.9h.01M749.0 869.7h.01M731.9 870.8h.01M749.3 876.3h.01M737.6 865.7h.01M731.8 851.9h.01M746.0 872.6h.01M716.2 844.7h.01M720.4 835.7h.01M720.6 840.3h.01M728.2 842.8h.01M728.2 858.2h.01M726.4 854.9h.01M742.6 867.2h.01M737.2 860.9h.01M715.7 835.9h.01M736.1 846.5h.01M746.5 882.7h.01M724.3 841.9h.01M742.0 883.8h.01M740.9 853.7h.01M727.5 869.1h.01M744.1 859.1h.01M728.8 849.1h.01M754.8 871.1h.01M714.2 840.8h.01M753.7 851.4h.01M746.8 847.6h.01M751.3 846.3h.01M777.2 844.0h.01M768.8 854.9h.01M766.3 849.1h.01M742.6 843.5h.01M758.8 848.0h.01M743.5 847.1h.01M777.8 839.9h.01M778.4 849.3h.01M773.5 845.5h.01M753.1 855.4h.01M761.0 853.0h.01M772.4 850.3h.01M738.4 849.5h.01M747.3 852.8h.01M757.9 866.4h.01M750.6 863.7h.01M754.4 864.7h.01M759.7 862.0h.01M759.1 874.1h.01M757.5 928.4h.01M753.5 929.2h.01M755.5 942.9h.01M753.9 913.7h.01M728.2 886.3h.01M754.8 933.5h.01M742.8 900.1h.01M761.0 944.8h.01M749.3 911.1h.01M748.8 899.4h.01M738.8 894.9h.01M743.5 892.6h.01M761.0 917.5h.01M733.7 893.8h.01M750.3 925.1h.01M733.9 883.0h.01M734.9 890.1h.01M757.0 938.4h.01M757.3 919.0h.01M750.2 932.7h.01M764.0 960.5h.01M752.9 906.4h.01M736.4 901.3h.01M732.0 875.6h.01M762.4 955.5h.01M751.7 936.5h.01M746.4 904.5h.01M727.9 881.0h.01M748.7 938.4h.01M752.2 920.7h.01M766.3 950.8h.01M755.6 922.3h.01M760.0 948.5h.01M742.3 896.1h.01M731.3 888.6h.01M742.5 888.0h.01M765.4 936.9h.01M753.8 910.0h.01M754.3 898.4h.01M759.7 909.7h.01M724.6 863.9h.01M722.1 873.2h.01M751.9 916.8h.01M746.0 931.9h.01M757.8 915.2h.01M743.7 909.6h.01M767.7 956.2h.01M726.7 876.3h.01M751.5 890.4h.01M755.1 884.9h.01M788.3 906.1h.01M780.6 878.6h.01M789.5 890.4h.01M799.7 898.5h.01M797.1 901.7h.01M785.4 886.5h.01M780.0 886.8h.01M794.2 894.9h.01M775.0 877.2h.01M794.5 910.9h.01M786.2 882.1h.01M791.8 901.1h.01M793.7 889.5h.01M793.4 906.4h.01M775.9 894.4h.01M780.0 898.1h.01M769.7 899.8h.01M766.3 897.2h.01M772.2 893.3h.01M779.5 917.7h.01M778.1 922.9h.01M781.4 911.7h.01M785.2 917.9h.01M782.6 915.4h.01M778.0 914.1h.01M774.4 917.9h.01M783.1 922.6h.01M774.4 911.0h.01M808.5 971.1h.01M773.8 947.5h.01M780.8 956.6h.01M799.8 978.6h.01M775.1 954.9h.01M797.3 970.9h.01M790.9 974.8h.01M779.8 948.8h.01M789.2 955.6h.01M785.4 966.2h.01M777.4 939.7h.01M785.4 960.5h.01M785.6 977.1h.01M790.5 967.1h.01M798.3 965.8h.01M793.5 969.2h.01M801.0 973.9h.01M803.4 969.9h.01M777.0 944.7h.01M805.5 978.9h.01M804.6 973.6h.01M784.4 953.7h.01M811.5 946.6h.01M803.9 942.7h.01M804.2 948.7h.01M804.2 939.2h.01M808.2 944.4h.01M836.7 872.8h.01M874.0 889.3h.01M865.1 888.2h.01M892.8 900.3h.01M842.2 879.4h.01M881.7 894.2h.01M830.6 879.6h.01M852.3 882.9h.01M822.3 874.6h.01M861.9 886.7h.01M832.6 875.4h.01M836.5 880.5h.01M888.5 899.1h.01M883.2 902.1h.01M870.0 895.7h.01M827.6 875.6h.01M857.0 887.2h.01M885.0 892.3h.01M883.8 897.4h.01M848.7 880.9h.01M845.2 883.2h.01M873.9 895.2h.01M929.0 898.1h.01M916.4 897.5h.01M935.9 903.9h.01M906.3 892.7h.01M922.0 901.4h.01M936.3 899.4h.01M932.5 902.6h.01M913.5 891.5h.01M910.3 877.4h.01M919.9 876.3h.01M924.9 872.6h.01M930.2 871.2h.01M876.1 983.8h.01M865.9 972.6h.01M878.9 986.5h.01M867.6 978.3h.01M872.2 981.8h.01M799.8 869.5h.01M804.2 872.4h.01M810.8 869.5h.01M800.5 882.7h.01M807.8 887.8h.01M811.5 920.8h.01M827.6 855.5h.01M847.4 907.6h.01M867.2 906.2h.01M899.5 942.1h.01M841.6 954.6h.01M846.0 962.6h.01M837.9 972.9h.01M820.0 978.8h.01M909.8 976.6h.01M951.6 990.5h.01M898.0 995.6h.01M729.3 826.9h.01M739.6 829.9h.01M760.1 826.9h.01M842.6 954.9h.01M846.0 962.6h.01M865.7 972.0h.01M871.7 975.4h.01M872.6 983.1h.01M881.1 982.3h.01M879.4 987.4h.01M899.7 942.3h.01M909.4 976.6h.01M897.4 996.0h.01M898.3 999.4h.01M951.4 990.5h.01M888.9 1049.1h.01M932.6 1003.7h.01M936.0 1008.0h.01M924.0 1010.6h.01M919.7 1017.4h.01M934.3 1014.0h.01M947.1 1008.9h.01M939.4 1019.1h.01M949.7 1019.1h.01M929.1 1026.9h.01M940.3 1028.6h.01M951.4 1026.0h.01M927.4 1036.3h.01M937.7 1041.4h.01M944.6 1039.7h.01M950.6 1043.1h.01M939.4 1048.3h.01M929.1 1056.0h.01M936.0 1055.1h.01M958.3 1034.6h.01M963.4 1038.0h.01M967.7 1029.4h.01M972.0 1026.9h.01M975.4 1032.9h.01M966.9 1046.6h.01M974.6 1044.9h.01M984.0 1034.6h.01M985.7 1041.4h.01M993.4 1032.0h.01M990.0 1041.4h.01M942.9 1012.3h.01M946.3 1022.6h.01M953.1 1032.9h.01M960.0 1041.4h.01M970.3 1038.0h.01M978.9 1039.7h.01M942.9 1032.9h.01M913.4 1078.9h.01M893.9 1062.3h.01M909.3 1073.3h.01M892.5 1059.7h.01M900.9 1079.3h.01M888.8 1066.1h.01M896.2 1066.1h.01M885.2 1072.9h.01M903.6 1075.7h.01M901.8 1081.3h.01M907.9 1078.2h.01M885.5 1064.8h.01M889.4 1068.0h.01M905.2 1076.0h.01M894.8 1065.0h.01M905.4 1080.1h.01M859.5 765.7h.01M1621.7 385.0h.01M1630.0 384.0h.01M1632.5 386.5h.01M1633.0 383.0h.01" fill="none" stroke="#000004" stroke-width="8.3" stroke-linecap="round"/>
<path d="M1304.6 246.9h.01M1278.9 250.3h.01M1262.6 255.4h.01M1272.0 265.7h.01M1371.4 270.0h.01M1311.4 309.9h.01M1228.3 326.6h.01M1451.1 288.0h.01M1428.9 334.3h.01M1557.4 364.3h.01M1369.7 386.6h.01M1379.1 408.9h.01M1380.0 414.0h.01M1325.1 411.4h.01M1353.4 430.3h.01M1595.1 432.9h.01M1173.4 487.7h.01M1182.9 619.7h.01M1194.9 625.7h.01M1188.0 630.0h.01M1095.4 661.7h.01M1353.4 453.4h.01M1247.7 469.2h.01M1280.6 477.4h.01M1342.3 478.3h.01M1369.7 508.3h.01M1422.5 525.9h.01M1542.9 507.1h.01M1284.5 543.4h.01M1272.0 561.8h.01M1524.5 549.9h.01M1315.7 572.6h.01M1421.7 572.6h.01M1209.8 578.6h.01M1260.5 578.6h.01M1323.4 585.1h.01M1427.7 584.6h.01M1211.1 594.9h.01M1550.6 606.0h.01M1240.3 636.9h.01M1213.7 660.0h.01M1212.0 672.5h.01M1389.9 676.3h.01M1634.6 467.1h.01M1643.7 483.9h.01M1602.9 519.9h.01M1640.6 520.3h.01M1663.7 536.6h.01M1626.9 548.6h.01M1573.7 554.9h.01M1577.1 585.1h.01M1606.3 597.8h.01M1693.7 599.5h.01M1612.3 628.3h.01M1639.2 662.2h.01M1681.7 682.8h.01M1580.2 685.7h.01M1627.7 685.7h.01M1163.1 918.0h.01M1197.4 911.1h.01M1263.4 700.3h.01M1222.3 708.9h.01M1215.4 752.1h.01M1255.2 768.0h.01M1413.4 750.0h.01M1394.2 771.9h.01M1419.9 777.4h.01M1443.1 777.1h.01M1463.1 775.7h.01M1464.0 783.4h.01M1435.7 786.0h.01M1551.1 771.9h.01M1329.4 789.4h.01M1256.6 792.9h.01M1215.1 800.1h.01M1245.4 829.2h.01M1385.1 840.5h.01M1373.7 855.4h.01M1211.1 853.7h.01M1213.7 912.9h.01M1238.1 916.3h.01M1283.1 913.7h.01M1422.5 921.4h.01M1672.3 708.0h.01M1688.6 711.9h.01M1686.0 732.0h.01M1606.3 785.1h.01M1580.2 795.1h.01M1670.2 791.1h.01M1622.1 808.8h.01M1657.4 812.6h.01M1593.1 824.2h.01M1632.0 836.9h.01M1634.1 858.3h.01M1185.1 1039.2h.01M1155.4 1049.1h.01M1182.0 1068.0h.01M1140.9 1167.4h.01M1362.0 987.9h.01M1448.1 994.8h.01M1325.1 1004.2h.01M1374.5 1003.7h.01M1262.6 1010.9h.01M1399.7 1011.9h.01M1427.1 1020.9h.01M1436.9 1034.2h.01M1237.4 1048.6h.01M1388.6 1062.0h.01M1258.8 1068.5h.01M1460.9 1094.6h.01M1207.4 1154.9h.01M1464.9 1169.1h.01M1198.3 1185.4h.01M1199.1 1190.6h.01M1257.4 1221.1h.01M1228.3 1228.3h.01M1322.9 1208.6h.01M1329.4 1226.6h.01M1261.7 1228.3h.01M776.3 961.9h.01" fill="none" stroke="#8C2981" stroke-width="8.3" stroke-linecap="round"/>
<path d="M1392.0 251.1h.01M1272.0 282.0h.01M1276.3 289.7h.01M1339.7 338.6h.01M1316.6 396.9h.01M1344.9 438.9h.01M1097.1 496.3h.01M974.6 651.4h.01M1027.7 662.6h.01M1135.7 648.9h.01M1382.2 485.7h.01M1226.2 673.7h.01M1622.6 457.7h.01M1632.9 478.3h.01M1663.4 528.9h.01M948.5 744.5h.01M1133.1 824.6h.01M1080.9 837.1h.01M1055.1 879.4h.01M1263.4 1109.7h.01M1206.0 1169.1h.01M1193.1 1195.7h.01M1214.6 1226.6h.01M1279.2 1217.7h.01M1264.3 1231.4h.01M786.8 970.7h.01" fill="none" stroke="#DE4968" stroke-width="8.3" stroke-linecap="round"/>
<path d="M1268.6 294.9h.01M1245.9 503.7h.01M1687.7 600.5h.01M1007.7 745.7h.01M1296.5 757.4h.01M1234.3 1168.3h.01M1333.7 1222.3h.01" fill="none" stroke="#FE9F6D" stroke-width="8.3" stroke-linecap="round"/>
<path d="M1363.7 398.6h.01" fill="none" stroke="#FCFDBF" stroke-width="8.3" stroke-linecap="round"/>
<path d="M1432.3 467.1h.01M1254.9 996.5h.01" fill="none" stroke="#FECF92" stroke-width="8.3" stroke-linecap="round"/>
</svg></body></html>
